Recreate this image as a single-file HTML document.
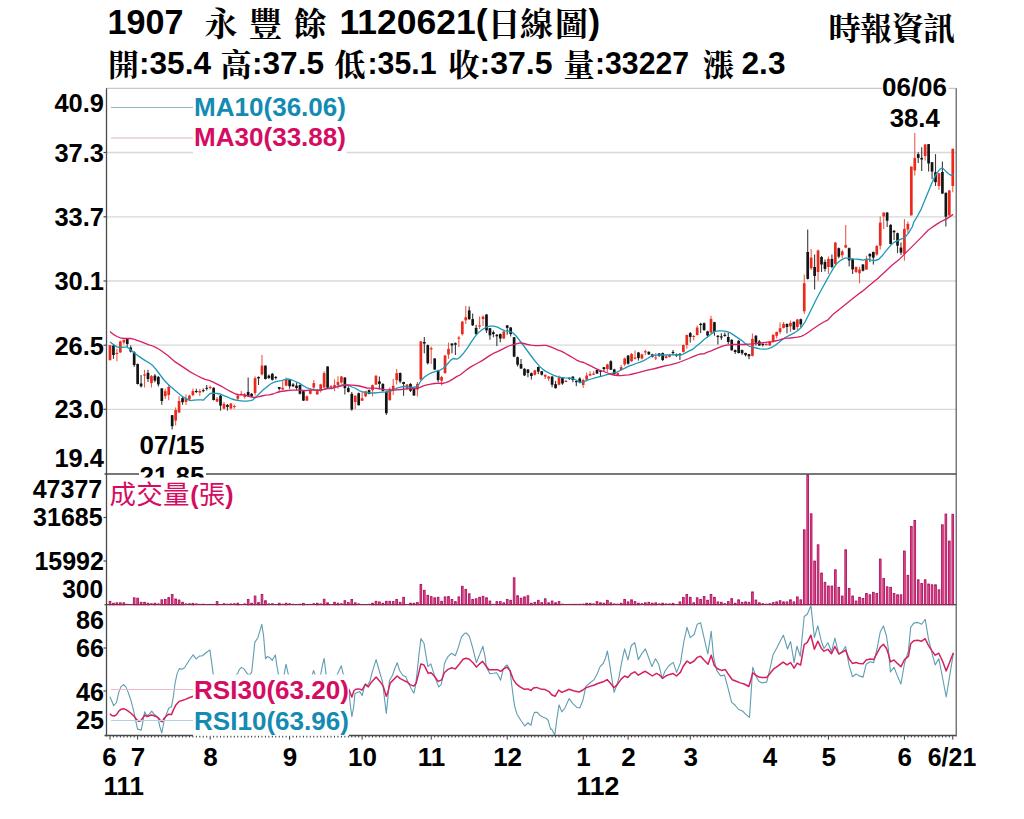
<!DOCTYPE html>
<html><head><meta charset="utf-8"><title>1907</title>
<style>
html,body{margin:0;padding:0;background:#fff;}
body{width:1024px;height:819px;overflow:hidden;font-family:"Liberation Sans",sans-serif;}
svg{display:block;font-family:"Liberation Sans",sans-serif;}
</style></head><body>
<svg width="1024" height="819" viewBox="0 0 1024 819">

<rect x="0" y="0" width="1024" height="819" fill="#fff"/>
<text x="107.5" y="34.3" font-size="35.0" font-weight="bold" fill="#000" text-anchor="start" textLength="76.0" lengthAdjust="spacingAndGlyphs">1907</text>
<text x="204.5 249.1 293.7" y="35.54" font-size="33" font-weight="bold" fill="#000" text-anchor="start" style="font-family:'Liberation Serif','Noto Serif CJK SC',serif">永豐餘</text>
<text x="339.5" y="34.3" font-size="35.0" font-weight="bold" fill="#000" text-anchor="start" textLength="148.0" lengthAdjust="spacingAndGlyphs">1120621(</text>
<text x="487.5 520 555" y="35.54" font-size="33" font-weight="bold" fill="#000" text-anchor="start" style="font-family:'Liberation Serif','Noto Serif CJK SC',serif">日線圖</text>
<text x="588.5" y="34.3" font-size="35.0" font-weight="bold" fill="#000" text-anchor="start">)</text>
<text x="828.5 860 891.5 923" y="40.24" font-size="32" font-weight="bold" fill="#000" text-anchor="start" style="font-family:'Liberation Serif','Noto Serif CJK SC',serif">時報資訊</text>
<text x="108.0" y="75.78" font-size="31" font-weight="bold" fill="#000" text-anchor="start" style="font-family:'Liberation Serif','Noto Serif CJK SC',serif">開</text>
<text x="139.0" y="74.1" font-size="31.0" font-weight="bold" fill="#000" text-anchor="start" textLength="72.0" lengthAdjust="spacingAndGlyphs">:35.4</text>
<text x="220.5" y="75.78" font-size="31" font-weight="bold" fill="#000" text-anchor="start" style="font-family:'Liberation Serif','Noto Serif CJK SC',serif">高</text>
<text x="252.0" y="74.1" font-size="31.0" font-weight="bold" fill="#000" text-anchor="start" textLength="72.0" lengthAdjust="spacingAndGlyphs">:37.5</text>
<text x="334.5" y="75.78" font-size="31" font-weight="bold" fill="#000" text-anchor="start" style="font-family:'Liberation Serif','Noto Serif CJK SC',serif">低</text>
<text x="367.5" y="74.1" font-size="31.0" font-weight="bold" fill="#000" text-anchor="start" textLength="69.0" lengthAdjust="spacingAndGlyphs">:35.1</text>
<text x="448.5" y="75.78" font-size="31" font-weight="bold" fill="#000" text-anchor="start" style="font-family:'Liberation Serif','Noto Serif CJK SC',serif">收</text>
<text x="479.5" y="74.1" font-size="31.0" font-weight="bold" fill="#000" text-anchor="start" textLength="73.0" lengthAdjust="spacingAndGlyphs">:37.5</text>
<text x="563.5" y="75.78" font-size="31" font-weight="bold" fill="#000" text-anchor="start" style="font-family:'Liberation Serif','Noto Serif CJK SC',serif">量</text>
<text x="595.0" y="74.1" font-size="31.0" font-weight="bold" fill="#000" text-anchor="start" textLength="94.0" lengthAdjust="spacingAndGlyphs">:33227</text>
<text x="703.0" y="75.78" font-size="31" font-weight="bold" fill="#000" text-anchor="start" style="font-family:'Liberation Serif','Noto Serif CJK SC',serif">漲</text>
<text x="741.5" y="74.1" font-size="31.0" font-weight="bold" fill="#000" text-anchor="start" textLength="44.0" lengthAdjust="spacingAndGlyphs">2.3</text>
<line x1="106.5" x2="956.0" y1="152.5" y2="152.5" stroke="#d8d8d8" stroke-width="1.3"/>
<line x1="106.5" x2="956.0" y1="216.8" y2="216.8" stroke="#d8d8d8" stroke-width="1.3"/>
<line x1="106.5" x2="956.0" y1="281.0" y2="281.0" stroke="#d8d8d8" stroke-width="1.3"/>
<line x1="106.5" x2="956.0" y1="345.2" y2="345.2" stroke="#d8d8d8" stroke-width="1.3"/>
<line x1="106.5" x2="956.0" y1="409.3" y2="409.3" stroke="#d8d8d8" stroke-width="1.3"/>
<line x1="106.5" x2="956.0" y1="88.3" y2="88.3" stroke="#c8c8c8" stroke-width="1.3"/>
<g id="price">
<path d="M110.00 345.2V360.2" stroke="#ee5b4b" stroke-width="1.1"/>
<rect x="108.65" y="345.2" width="2.7" height="15.0" fill="#ea2a1c"/>
<path d="M113.45 345.0V358.8" stroke="#3a3a3a" stroke-width="1.1"/>
<rect x="112.10" y="345.6" width="2.7" height="9.4" fill="#141414"/>
<path d="M116.91 348.8V361.2" stroke="#ee5b4b" stroke-width="1.1"/>
<rect x="115.56" y="352.9" width="2.7" height="1.1" fill="#ea2a1c"/>
<path d="M120.36 340.6V352.8" stroke="#ee5b4b" stroke-width="1.1"/>
<rect x="119.01" y="341.5" width="2.7" height="11.0" fill="#ea2a1c"/>
<path d="M123.82 339.4V344.4" stroke="#ee5b4b" stroke-width="1.1"/>
<rect x="122.47" y="340.0" width="2.7" height="2.5" fill="#ea2a1c"/>
<path d="M127.27 338.1V346.9" stroke="#3a3a3a" stroke-width="1.1"/>
<rect x="125.92" y="338.8" width="2.7" height="5.2" fill="#141414"/>
<path d="M130.72 345.6V352.5" stroke="#3a3a3a" stroke-width="1.1"/>
<rect x="129.37" y="347.5" width="2.7" height="4.0" fill="#141414"/>
<path d="M134.18 351.2V366.9" stroke="#3a3a3a" stroke-width="1.1"/>
<rect x="132.83" y="352.2" width="2.7" height="12.8" fill="#141414"/>
<path d="M137.63 363.5V384.6" stroke="#3a3a3a" stroke-width="1.1"/>
<rect x="136.28" y="364.0" width="2.7" height="20.0" fill="#141414"/>
<path d="M141.09 375.0V387.5" stroke="#3a3a3a" stroke-width="1.1"/>
<rect x="139.74" y="383.5" width="2.7" height="2.8" fill="#141414"/>
<path d="M144.54 369.8V387.5" stroke="#ee5b4b" stroke-width="1.1"/>
<rect x="143.19" y="374.4" width="2.7" height="1.2" fill="#ea2a1c"/>
<path d="M147.99 369.8V381.9" stroke="#3a3a3a" stroke-width="1.1"/>
<rect x="146.64" y="372.8" width="2.7" height="6.2" fill="#141414"/>
<path d="M151.45 375.0V387.5" stroke="#ee5b4b" stroke-width="1.1"/>
<rect x="150.10" y="376.2" width="2.7" height="6.9" fill="#ea2a1c"/>
<path d="M154.90 374.0V382.2" stroke="#3a3a3a" stroke-width="1.1"/>
<rect x="153.55" y="375.6" width="2.7" height="5.0" fill="#141414"/>
<path d="M158.36 376.0V386.5" stroke="#3a3a3a" stroke-width="1.1"/>
<rect x="157.01" y="376.9" width="2.7" height="7.5" fill="#141414"/>
<path d="M161.81 388.1V404.8" stroke="#3a3a3a" stroke-width="1.1"/>
<rect x="160.46" y="388.4" width="2.7" height="12.6" fill="#141414"/>
<path d="M165.26 388.8V399.0" stroke="#ee5b4b" stroke-width="1.1"/>
<rect x="163.91" y="391.2" width="2.7" height="5.0" fill="#ea2a1c"/>
<path d="M168.72 385.0V400.2" stroke="#ee5b4b" stroke-width="1.1"/>
<rect x="167.37" y="386.9" width="2.7" height="8.1" fill="#ea2a1c"/>
<path d="M172.17 415.0V429.4" stroke="#3a3a3a" stroke-width="1.1"/>
<rect x="170.82" y="415.2" width="2.7" height="11.0" fill="#141414"/>
<path d="M175.63 407.5V425.6" stroke="#ee5b4b" stroke-width="1.1"/>
<rect x="174.28" y="410.0" width="2.7" height="10.6" fill="#ea2a1c"/>
<path d="M179.08 396.2V413.1" stroke="#ee5b4b" stroke-width="1.1"/>
<rect x="177.73" y="401.0" width="2.7" height="11.5" fill="#ea2a1c"/>
<path d="M182.53 396.2V404.8" stroke="#3a3a3a" stroke-width="1.1"/>
<rect x="181.18" y="398.1" width="2.7" height="4.1" fill="#141414"/>
<path d="M185.99 394.4V405.0" stroke="#ee5b4b" stroke-width="1.1"/>
<rect x="184.64" y="398.5" width="2.7" height="3.4" fill="#ea2a1c"/>
<path d="M189.44 394.8V400.6" stroke="#ee5b4b" stroke-width="1.1"/>
<rect x="188.09" y="395.6" width="2.7" height="3.8" fill="#ea2a1c"/>
<path d="M192.90 388.5V396.2" stroke="#ee5b4b" stroke-width="1.1"/>
<rect x="191.55" y="391.0" width="2.7" height="4.2" fill="#ea2a1c"/>
<path d="M196.35 388.8V393.1" stroke="#3a3a3a" stroke-width="1.1"/>
<rect x="195.00" y="391.0" width="2.7" height="1.0" fill="#141414"/>
<path d="M199.80 389.0V396.0" stroke="#ee5b4b" stroke-width="1.1"/>
<rect x="198.45" y="391.0" width="2.7" height="1.5" fill="#ea2a1c"/>
<path d="M203.26 388.5V392.2" stroke="#3a3a3a" stroke-width="1.1"/>
<rect x="201.91" y="390.2" width="2.7" height="1.0" fill="#141414"/>
<path d="M206.71 385.0V390.6" stroke="#3a3a3a" stroke-width="1.1"/>
<rect x="205.36" y="387.8" width="2.7" height="1.0" fill="#141414"/>
<path d="M210.17 385.6V389.4" stroke="#ee5b4b" stroke-width="1.1"/>
<rect x="208.82" y="386.9" width="2.7" height="1.2" fill="#ea2a1c"/>
<path d="M213.62 387.2V400.6" stroke="#3a3a3a" stroke-width="1.1"/>
<rect x="212.27" y="387.8" width="2.7" height="12.2" fill="#141414"/>
<path d="M217.07 396.9V401.9" stroke="#ee5b4b" stroke-width="1.1"/>
<rect x="215.72" y="398.8" width="2.7" height="2.8" fill="#ea2a1c"/>
<path d="M220.53 395.0V410.6" stroke="#3a3a3a" stroke-width="1.1"/>
<rect x="219.18" y="395.6" width="2.7" height="10.0" fill="#141414"/>
<path d="M223.98 401.9V409.4" stroke="#ee5b4b" stroke-width="1.1"/>
<rect x="222.63" y="403.8" width="2.7" height="4.8" fill="#ea2a1c"/>
<path d="M227.44 404.0V410.6" stroke="#3a3a3a" stroke-width="1.1"/>
<rect x="226.09" y="405.0" width="2.7" height="1.9" fill="#141414"/>
<path d="M230.89 403.1V409.4" stroke="#ee5b4b" stroke-width="1.1"/>
<rect x="229.54" y="403.5" width="2.7" height="5.0" fill="#ea2a1c"/>
<path d="M234.34 404.4V408.8" stroke="#ee5b4b" stroke-width="1.1"/>
<rect x="232.99" y="406.0" width="2.7" height="1.0" fill="#ea2a1c"/>
<path d="M237.80 393.8V400.0" stroke="#ee5b4b" stroke-width="1.1"/>
<rect x="236.45" y="395.6" width="2.7" height="3.1" fill="#ea2a1c"/>
<path d="M241.25 391.0V395.6" stroke="#ee5b4b" stroke-width="1.1"/>
<rect x="239.90" y="393.8" width="2.7" height="1.2" fill="#ea2a1c"/>
<path d="M244.71 393.1V398.8" stroke="#ee5b4b" stroke-width="1.1"/>
<rect x="243.36" y="394.4" width="2.7" height="2.5" fill="#ea2a1c"/>
<path d="M248.16 377.5V396.5" stroke="#3a3a3a" stroke-width="1.1"/>
<rect x="246.81" y="391.9" width="2.7" height="4.4" fill="#141414"/>
<path d="M251.61 393.1V396.9" stroke="#3a3a3a" stroke-width="1.1"/>
<rect x="250.26" y="393.8" width="2.7" height="2.5" fill="#141414"/>
<path d="M255.07 376.2V395.6" stroke="#ee5b4b" stroke-width="1.1"/>
<rect x="253.72" y="378.1" width="2.7" height="15.0" fill="#ea2a1c"/>
<path d="M258.52 376.5V385.0" stroke="#3a3a3a" stroke-width="1.1"/>
<rect x="257.17" y="376.9" width="2.7" height="1.5" fill="#141414"/>
<path d="M261.98 355.0V375.6" stroke="#ee5b4b" stroke-width="1.1"/>
<rect x="260.63" y="365.6" width="2.7" height="8.8" fill="#ea2a1c"/>
<path d="M265.43 365.4V379.4" stroke="#3a3a3a" stroke-width="1.1"/>
<rect x="264.08" y="365.6" width="2.7" height="13.4" fill="#141414"/>
<path d="M268.88 374.4V378.8" stroke="#3a3a3a" stroke-width="1.1"/>
<rect x="267.53" y="375.6" width="2.7" height="2.5" fill="#141414"/>
<path d="M272.34 373.1V380.6" stroke="#3a3a3a" stroke-width="1.1"/>
<rect x="270.99" y="373.8" width="2.7" height="6.0" fill="#141414"/>
<path d="M275.79 376.0V379.4" stroke="#3a3a3a" stroke-width="1.1"/>
<rect x="274.44" y="377.0" width="2.7" height="1.0" fill="#141414"/>
<path d="M279.25 386.9V390.6" stroke="#3a3a3a" stroke-width="1.1"/>
<rect x="277.90" y="387.0" width="2.7" height="1.8" fill="#141414"/>
<path d="M282.70 381.2V390.0" stroke="#ee5b4b" stroke-width="1.1"/>
<rect x="281.35" y="387.8" width="2.7" height="1.6" fill="#ea2a1c"/>
<path d="M286.15 377.5V386.2" stroke="#ee5b4b" stroke-width="1.1"/>
<rect x="284.80" y="380.0" width="2.7" height="5.6" fill="#ea2a1c"/>
<path d="M289.61 379.4V388.8" stroke="#3a3a3a" stroke-width="1.1"/>
<rect x="288.26" y="380.0" width="2.7" height="6.2" fill="#141414"/>
<path d="M293.06 383.1V386.9" stroke="#3a3a3a" stroke-width="1.1"/>
<rect x="291.71" y="384.4" width="2.7" height="1.9" fill="#141414"/>
<path d="M296.52 382.5V390.0" stroke="#3a3a3a" stroke-width="1.1"/>
<rect x="295.17" y="385.6" width="2.7" height="2.5" fill="#141414"/>
<path d="M299.97 384.4V394.4" stroke="#3a3a3a" stroke-width="1.1"/>
<rect x="298.62" y="385.0" width="2.7" height="8.8" fill="#141414"/>
<path d="M303.42 390.6V401.0" stroke="#3a3a3a" stroke-width="1.1"/>
<rect x="302.07" y="391.2" width="2.7" height="9.4" fill="#141414"/>
<path d="M306.88 395.6V401.0" stroke="#ee5b4b" stroke-width="1.1"/>
<rect x="305.53" y="396.2" width="2.7" height="4.4" fill="#ea2a1c"/>
<path d="M310.33 388.8V394.4" stroke="#ee5b4b" stroke-width="1.1"/>
<rect x="308.98" y="390.0" width="2.7" height="3.8" fill="#ea2a1c"/>
<path d="M313.79 380.0V389.4" stroke="#ee5b4b" stroke-width="1.1"/>
<rect x="312.44" y="383.1" width="2.7" height="4.4" fill="#ea2a1c"/>
<path d="M317.24 388.8V395.0" stroke="#ee5b4b" stroke-width="1.1"/>
<rect x="315.89" y="391.2" width="2.7" height="3.1" fill="#ea2a1c"/>
<path d="M320.69 383.8V392.5" stroke="#ee5b4b" stroke-width="1.1"/>
<rect x="319.34" y="384.4" width="2.7" height="5.6" fill="#ea2a1c"/>
<path d="M324.15 371.2V388.1" stroke="#ee5b4b" stroke-width="1.1"/>
<rect x="322.80" y="373.1" width="2.7" height="14.4" fill="#ea2a1c"/>
<path d="M327.60 366.2V388.1" stroke="#3a3a3a" stroke-width="1.1"/>
<rect x="326.25" y="366.5" width="2.7" height="21.2" fill="#141414"/>
<path d="M331.06 385.0V388.8" stroke="#ee5b4b" stroke-width="1.1"/>
<rect x="329.71" y="386.2" width="2.7" height="1.5" fill="#ea2a1c"/>
<path d="M334.51 379.4V391.2" stroke="#ee5b4b" stroke-width="1.1"/>
<rect x="333.16" y="385.0" width="2.7" height="2.5" fill="#ea2a1c"/>
<path d="M337.96 376.2V388.8" stroke="#ee5b4b" stroke-width="1.1"/>
<rect x="336.61" y="381.9" width="2.7" height="3.1" fill="#ea2a1c"/>
<path d="M341.42 376.0V383.8" stroke="#ee5b4b" stroke-width="1.1"/>
<rect x="340.07" y="376.5" width="2.7" height="6.0" fill="#ea2a1c"/>
<path d="M344.87 377.2V394.4" stroke="#3a3a3a" stroke-width="1.1"/>
<rect x="343.52" y="377.5" width="2.7" height="10.6" fill="#141414"/>
<path d="M348.33 386.2V392.5" stroke="#3a3a3a" stroke-width="1.1"/>
<rect x="346.98" y="388.1" width="2.7" height="3.8" fill="#141414"/>
<path d="M351.78 392.0V410.8" stroke="#3a3a3a" stroke-width="1.1"/>
<rect x="350.43" y="393.9" width="2.7" height="15.6" fill="#141414"/>
<path d="M355.23 395.1V408.9" stroke="#ee5b4b" stroke-width="1.1"/>
<rect x="353.88" y="395.8" width="2.7" height="6.2" fill="#ea2a1c"/>
<path d="M358.69 392.6V405.8" stroke="#3a3a3a" stroke-width="1.1"/>
<rect x="357.34" y="393.2" width="2.7" height="11.9" fill="#141414"/>
<path d="M362.14 392.0V401.0" stroke="#ee5b4b" stroke-width="1.1"/>
<rect x="360.79" y="398.2" width="2.7" height="2.5" fill="#ea2a1c"/>
<path d="M365.60 390.8V397.0" stroke="#ee5b4b" stroke-width="1.1"/>
<rect x="364.25" y="391.4" width="2.7" height="5.0" fill="#ea2a1c"/>
<path d="M369.05 389.5V394.2" stroke="#3a3a3a" stroke-width="1.1"/>
<rect x="367.70" y="390.1" width="2.7" height="3.8" fill="#141414"/>
<path d="M372.50 384.5V396.4" stroke="#ee5b4b" stroke-width="1.1"/>
<rect x="371.15" y="385.1" width="2.7" height="5.0" fill="#ea2a1c"/>
<path d="M375.96 375.1V385.1" stroke="#ee5b4b" stroke-width="1.1"/>
<rect x="374.61" y="375.8" width="2.7" height="8.8" fill="#ea2a1c"/>
<path d="M379.41 376.4V389.5" stroke="#3a3a3a" stroke-width="1.1"/>
<rect x="378.06" y="381.4" width="2.7" height="2.5" fill="#141414"/>
<path d="M382.87 383.2V391.4" stroke="#3a3a3a" stroke-width="1.1"/>
<rect x="381.52" y="383.9" width="2.7" height="6.9" fill="#141414"/>
<path d="M386.32 390.8V415.1" stroke="#3a3a3a" stroke-width="1.1"/>
<rect x="384.97" y="392.0" width="2.7" height="21.2" fill="#141414"/>
<path d="M389.77 387.6V400.8" stroke="#ee5b4b" stroke-width="1.1"/>
<rect x="388.42" y="388.9" width="2.7" height="11.2" fill="#ea2a1c"/>
<path d="M393.23 378.9V395.1" stroke="#ee5b4b" stroke-width="1.1"/>
<rect x="391.88" y="385.8" width="2.7" height="4.4" fill="#ea2a1c"/>
<path d="M396.68 368.9V384.5" stroke="#ee5b4b" stroke-width="1.1"/>
<rect x="395.33" y="373.2" width="2.7" height="6.9" fill="#ea2a1c"/>
<path d="M400.14 372.6V383.2" stroke="#3a3a3a" stroke-width="1.1"/>
<rect x="398.79" y="373.0" width="2.7" height="8.4" fill="#141414"/>
<path d="M403.59 381.8V395.8" stroke="#3a3a3a" stroke-width="1.1"/>
<rect x="402.24" y="382.0" width="2.7" height="2.0" fill="#141414"/>
<path d="M407.04 383.9V389.5" stroke="#ee5b4b" stroke-width="1.1"/>
<rect x="405.69" y="384.5" width="2.7" height="4.4" fill="#ea2a1c"/>
<path d="M410.50 383.2V392.0" stroke="#3a3a3a" stroke-width="1.1"/>
<rect x="409.15" y="383.9" width="2.7" height="6.9" fill="#141414"/>
<path d="M413.95 388.2V395.8" stroke="#3a3a3a" stroke-width="1.1"/>
<rect x="412.60" y="388.9" width="2.7" height="6.6" fill="#141414"/>
<path d="M417.41 382.0V396.4" stroke="#ee5b4b" stroke-width="1.1"/>
<rect x="416.06" y="383.9" width="2.7" height="5.6" fill="#ea2a1c"/>
<path d="M420.86 341.0V380.1" stroke="#ee5b4b" stroke-width="1.1"/>
<rect x="419.51" y="341.4" width="2.7" height="38.1" fill="#ea2a1c"/>
<path d="M424.31 337.0V353.2" stroke="#3a3a3a" stroke-width="1.1"/>
<rect x="422.96" y="342.0" width="2.7" height="1.5" fill="#141414"/>
<path d="M427.77 344.5V364.5" stroke="#3a3a3a" stroke-width="1.1"/>
<rect x="426.42" y="345.1" width="2.7" height="18.1" fill="#141414"/>
<path d="M431.22 346.4V363.9" stroke="#ee5b4b" stroke-width="1.1"/>
<rect x="429.87" y="348.2" width="2.7" height="1.2" fill="#ea2a1c"/>
<path d="M434.68 358.0V370.1" stroke="#3a3a3a" stroke-width="1.1"/>
<rect x="433.33" y="358.5" width="2.7" height="11.0" fill="#141414"/>
<path d="M438.13 369.8V382.0" stroke="#3a3a3a" stroke-width="1.1"/>
<rect x="436.78" y="370.5" width="2.7" height="9.6" fill="#141414"/>
<path d="M441.58 375.8V385.5" stroke="#ee5b4b" stroke-width="1.1"/>
<rect x="440.23" y="377.0" width="2.7" height="3.8" fill="#ea2a1c"/>
<path d="M445.04 355.1V373.9" stroke="#ee5b4b" stroke-width="1.1"/>
<rect x="443.69" y="355.5" width="2.7" height="17.5" fill="#ea2a1c"/>
<path d="M448.49 342.6V358.9" stroke="#ee5b4b" stroke-width="1.1"/>
<rect x="447.14" y="348.9" width="2.7" height="5.6" fill="#ea2a1c"/>
<path d="M451.95 343.2V353.2" stroke="#3a3a3a" stroke-width="1.1"/>
<rect x="450.60" y="343.5" width="2.7" height="1.9" fill="#141414"/>
<path d="M455.40 342.6V355.1" stroke="#3a3a3a" stroke-width="1.1"/>
<rect x="454.05" y="343.2" width="2.7" height="1.5" fill="#141414"/>
<path d="M458.85 335.8V347.0" stroke="#ee5b4b" stroke-width="1.1"/>
<rect x="457.50" y="337.6" width="2.7" height="1.2" fill="#ea2a1c"/>
<path d="M462.31 321.0V335.4" stroke="#ee5b4b" stroke-width="1.1"/>
<rect x="460.96" y="321.6" width="2.7" height="12.5" fill="#ea2a1c"/>
<path d="M465.76 306.0V324.1" stroke="#ee5b4b" stroke-width="1.1"/>
<rect x="464.41" y="317.2" width="2.7" height="3.1" fill="#ea2a1c"/>
<path d="M469.22 306.6V319.8" stroke="#3a3a3a" stroke-width="1.1"/>
<rect x="467.87" y="310.4" width="2.7" height="8.8" fill="#141414"/>
<path d="M472.67 313.5V326.0" stroke="#3a3a3a" stroke-width="1.1"/>
<rect x="471.32" y="319.1" width="2.7" height="6.2" fill="#141414"/>
<path d="M476.12 324.8V334.8" stroke="#3a3a3a" stroke-width="1.1"/>
<rect x="474.77" y="327.9" width="2.7" height="6.2" fill="#141414"/>
<path d="M479.58 316.6V329.1" stroke="#ee5b4b" stroke-width="1.1"/>
<rect x="478.23" y="325.4" width="2.7" height="1.2" fill="#ea2a1c"/>
<path d="M483.03 315.4V326.0" stroke="#ee5b4b" stroke-width="1.1"/>
<rect x="481.68" y="316.6" width="2.7" height="2.5" fill="#ea2a1c"/>
<path d="M486.49 314.1V332.9" stroke="#3a3a3a" stroke-width="1.1"/>
<rect x="485.14" y="314.5" width="2.7" height="15.9" fill="#141414"/>
<path d="M489.94 327.9V339.8" stroke="#3a3a3a" stroke-width="1.1"/>
<rect x="488.59" y="328.2" width="2.7" height="7.1" fill="#141414"/>
<path d="M493.39 330.4V337.2" stroke="#3a3a3a" stroke-width="1.1"/>
<rect x="492.04" y="332.2" width="2.7" height="1.9" fill="#141414"/>
<path d="M496.85 334.1V346.0" stroke="#3a3a3a" stroke-width="1.1"/>
<rect x="495.50" y="334.8" width="2.7" height="1.5" fill="#141414"/>
<path d="M500.30 333.5V342.2" stroke="#3a3a3a" stroke-width="1.1"/>
<rect x="498.95" y="334.1" width="2.7" height="4.4" fill="#141414"/>
<path d="M503.76 331.0V339.1" stroke="#ee5b4b" stroke-width="1.1"/>
<rect x="502.41" y="331.6" width="2.7" height="6.9" fill="#ea2a1c"/>
<path d="M507.21 325.0V334.8" stroke="#3a3a3a" stroke-width="1.1"/>
<rect x="505.86" y="325.4" width="2.7" height="2.5" fill="#141414"/>
<path d="M510.66 327.0V336.6" stroke="#3a3a3a" stroke-width="1.1"/>
<rect x="509.31" y="327.5" width="2.7" height="6.6" fill="#141414"/>
<path d="M514.12 337.0V357.2" stroke="#3a3a3a" stroke-width="1.1"/>
<rect x="512.77" y="337.2" width="2.7" height="19.4" fill="#141414"/>
<path d="M517.57 356.6V366.6" stroke="#3a3a3a" stroke-width="1.1"/>
<rect x="516.22" y="357.2" width="2.7" height="7.5" fill="#141414"/>
<path d="M521.03 359.1V369.1" stroke="#3a3a3a" stroke-width="1.1"/>
<rect x="519.68" y="364.1" width="2.7" height="4.4" fill="#141414"/>
<path d="M524.48 368.2V376.0" stroke="#3a3a3a" stroke-width="1.1"/>
<rect x="523.13" y="368.8" width="2.7" height="6.6" fill="#141414"/>
<path d="M527.93 369.1V377.2" stroke="#3a3a3a" stroke-width="1.1"/>
<rect x="526.58" y="369.5" width="2.7" height="3.4" fill="#141414"/>
<path d="M531.39 372.5V379.5" stroke="#3a3a3a" stroke-width="1.1"/>
<rect x="530.04" y="373.2" width="2.7" height="2.8" fill="#141414"/>
<path d="M534.84 369.8V375.4" stroke="#ee5b4b" stroke-width="1.1"/>
<rect x="533.49" y="370.4" width="2.7" height="4.4" fill="#ea2a1c"/>
<path d="M538.30 366.6V374.1" stroke="#3a3a3a" stroke-width="1.1"/>
<rect x="536.95" y="367.0" width="2.7" height="4.6" fill="#141414"/>
<path d="M541.75 371.0V375.4" stroke="#3a3a3a" stroke-width="1.1"/>
<rect x="540.40" y="371.2" width="2.7" height="3.5" fill="#141414"/>
<path d="M545.20 374.5V379.1" stroke="#ee5b4b" stroke-width="1.1"/>
<rect x="543.85" y="374.8" width="2.7" height="1.9" fill="#ea2a1c"/>
<path d="M548.66 376.0V381.0" stroke="#ee5b4b" stroke-width="1.1"/>
<rect x="547.31" y="376.6" width="2.7" height="1.9" fill="#ea2a1c"/>
<path d="M552.11 376.0V387.2" stroke="#3a3a3a" stroke-width="1.1"/>
<rect x="550.76" y="376.6" width="2.7" height="8.1" fill="#141414"/>
<path d="M555.57 381.0V388.5" stroke="#3a3a3a" stroke-width="1.1"/>
<rect x="554.22" y="384.1" width="2.7" height="4.1" fill="#141414"/>
<path d="M559.02 375.4V385.4" stroke="#ee5b4b" stroke-width="1.1"/>
<rect x="557.67" y="377.5" width="2.7" height="7.2" fill="#ea2a1c"/>
<path d="M562.47 377.5V384.8" stroke="#3a3a3a" stroke-width="1.1"/>
<rect x="561.12" y="377.9" width="2.7" height="5.6" fill="#141414"/>
<path d="M565.93 380.0V382.2" stroke="#ee5b4b" stroke-width="1.1"/>
<rect x="564.58" y="380.8" width="2.7" height="1.2" fill="#ea2a1c"/>
<path d="M569.38 377.2V379.8" stroke="#3a3a3a" stroke-width="1.1"/>
<rect x="568.03" y="377.9" width="2.7" height="1.2" fill="#141414"/>
<path d="M572.84 376.2V382.2" stroke="#3a3a3a" stroke-width="1.1"/>
<rect x="571.49" y="376.6" width="2.7" height="3.4" fill="#141414"/>
<path d="M576.29 380.4V386.2" stroke="#3a3a3a" stroke-width="1.1"/>
<rect x="574.94" y="381.0" width="2.7" height="1.2" fill="#141414"/>
<path d="M579.74 377.2V383.2" stroke="#3a3a3a" stroke-width="1.1"/>
<rect x="578.39" y="378.5" width="2.7" height="4.0" fill="#141414"/>
<path d="M583.20 378.8V388.1" stroke="#ee5b4b" stroke-width="1.1"/>
<rect x="581.85" y="380.0" width="2.7" height="5.0" fill="#ea2a1c"/>
<path d="M586.65 372.5V380.0" stroke="#ee5b4b" stroke-width="1.1"/>
<rect x="585.30" y="375.6" width="2.7" height="4.1" fill="#ea2a1c"/>
<path d="M590.11 371.2V376.2" stroke="#ee5b4b" stroke-width="1.1"/>
<rect x="588.76" y="374.0" width="2.7" height="1.6" fill="#ea2a1c"/>
<path d="M593.56 371.2V375.0" stroke="#ee5b4b" stroke-width="1.1"/>
<rect x="592.21" y="373.5" width="2.7" height="1.2" fill="#ea2a1c"/>
<path d="M597.01 369.4V374.0" stroke="#3a3a3a" stroke-width="1.1"/>
<rect x="595.66" y="370.0" width="2.7" height="3.5" fill="#141414"/>
<path d="M600.47 370.0V376.2" stroke="#3a3a3a" stroke-width="1.1"/>
<rect x="599.12" y="370.6" width="2.7" height="1.2" fill="#141414"/>
<path d="M603.92 366.9V371.2" stroke="#3a3a3a" stroke-width="1.1"/>
<rect x="602.57" y="367.2" width="2.7" height="1.8" fill="#141414"/>
<path d="M607.38 363.8V371.9" stroke="#ee5b4b" stroke-width="1.1"/>
<rect x="606.03" y="364.4" width="2.7" height="4.6" fill="#ea2a1c"/>
<path d="M610.83 360.2V370.0" stroke="#3a3a3a" stroke-width="1.1"/>
<rect x="609.48" y="361.2" width="2.7" height="8.5" fill="#141414"/>
<path d="M614.28 368.8V375.6" stroke="#3a3a3a" stroke-width="1.1"/>
<rect x="612.93" y="369.4" width="2.7" height="4.6" fill="#141414"/>
<path d="M617.74 372.5V375.6" stroke="#ee5b4b" stroke-width="1.1"/>
<rect x="616.39" y="373.1" width="2.7" height="1.9" fill="#ea2a1c"/>
<path d="M621.19 365.0V370.6" stroke="#ee5b4b" stroke-width="1.1"/>
<rect x="619.84" y="367.2" width="2.7" height="2.8" fill="#ea2a1c"/>
<path d="M624.65 357.5V366.2" stroke="#ee5b4b" stroke-width="1.1"/>
<rect x="623.30" y="358.5" width="2.7" height="5.9" fill="#ea2a1c"/>
<path d="M628.10 355.0V364.4" stroke="#3a3a3a" stroke-width="1.1"/>
<rect x="626.75" y="355.6" width="2.7" height="8.1" fill="#141414"/>
<path d="M631.55 353.1V361.9" stroke="#ee5b4b" stroke-width="1.1"/>
<rect x="630.20" y="354.0" width="2.7" height="7.2" fill="#ea2a1c"/>
<path d="M635.01 350.6V359.4" stroke="#ee5b4b" stroke-width="1.1"/>
<rect x="633.66" y="357.5" width="2.7" height="1.2" fill="#ea2a1c"/>
<path d="M638.46 351.9V360.6" stroke="#3a3a3a" stroke-width="1.1"/>
<rect x="637.11" y="352.5" width="2.7" height="5.6" fill="#141414"/>
<path d="M641.92 353.8V359.4" stroke="#ee5b4b" stroke-width="1.1"/>
<rect x="640.57" y="354.4" width="2.7" height="4.1" fill="#ea2a1c"/>
<path d="M645.37 349.8V355.0" stroke="#ee5b4b" stroke-width="1.1"/>
<rect x="644.02" y="351.2" width="2.7" height="1.2" fill="#ea2a1c"/>
<path d="M648.82 351.2V355.0" stroke="#3a3a3a" stroke-width="1.1"/>
<rect x="647.47" y="351.9" width="2.7" height="2.5" fill="#141414"/>
<path d="M652.28 353.8V357.5" stroke="#3a3a3a" stroke-width="1.1"/>
<rect x="650.93" y="354.4" width="2.7" height="2.5" fill="#141414"/>
<path d="M655.73 353.1V360.0" stroke="#ee5b4b" stroke-width="1.1"/>
<rect x="654.38" y="357.5" width="2.7" height="1.0" fill="#ea2a1c"/>
<path d="M659.19 353.1V356.9" stroke="#3a3a3a" stroke-width="1.1"/>
<rect x="657.84" y="353.5" width="2.7" height="2.1" fill="#141414"/>
<path d="M662.64 352.5V361.0" stroke="#3a3a3a" stroke-width="1.1"/>
<rect x="661.29" y="353.1" width="2.7" height="6.9" fill="#141414"/>
<path d="M666.09 355.6V358.5" stroke="#ee5b4b" stroke-width="1.1"/>
<rect x="664.74" y="356.2" width="2.7" height="1.9" fill="#ea2a1c"/>
<path d="M669.55 353.8V357.5" stroke="#ee5b4b" stroke-width="1.1"/>
<rect x="668.20" y="355.0" width="2.7" height="1.9" fill="#ea2a1c"/>
<path d="M673.00 350.0V355.0" stroke="#3a3a3a" stroke-width="1.1"/>
<rect x="671.65" y="351.9" width="2.7" height="1.2" fill="#141414"/>
<path d="M676.46 353.5V356.9" stroke="#3a3a3a" stroke-width="1.1"/>
<rect x="675.11" y="354.4" width="2.7" height="1.2" fill="#141414"/>
<path d="M679.91 353.1V360.0" stroke="#3a3a3a" stroke-width="1.1"/>
<rect x="678.56" y="353.8" width="2.7" height="1.2" fill="#141414"/>
<path d="M683.36 344.4V352.5" stroke="#ee5b4b" stroke-width="1.1"/>
<rect x="682.01" y="345.0" width="2.7" height="6.9" fill="#ea2a1c"/>
<path d="M686.82 334.4V348.8" stroke="#ee5b4b" stroke-width="1.1"/>
<rect x="685.47" y="335.0" width="2.7" height="10.0" fill="#ea2a1c"/>
<path d="M690.27 331.9V342.5" stroke="#3a3a3a" stroke-width="1.1"/>
<rect x="688.92" y="333.1" width="2.7" height="3.8" fill="#141414"/>
<path d="M693.73 335.0V340.6" stroke="#ee5b4b" stroke-width="1.1"/>
<rect x="692.38" y="336.0" width="2.7" height="1.0" fill="#ea2a1c"/>
<path d="M697.18 325.6V335.6" stroke="#ee5b4b" stroke-width="1.1"/>
<rect x="695.83" y="327.5" width="2.7" height="7.5" fill="#ea2a1c"/>
<path d="M700.63 322.8V333.1" stroke="#3a3a3a" stroke-width="1.1"/>
<rect x="699.28" y="323.8" width="2.7" height="1.2" fill="#141414"/>
<path d="M704.09 322.6V330.8" stroke="#3a3a3a" stroke-width="1.1"/>
<rect x="702.74" y="323.2" width="2.7" height="6.9" fill="#141414"/>
<path d="M707.54 330.8V337.6" stroke="#3a3a3a" stroke-width="1.1"/>
<rect x="706.19" y="331.4" width="2.7" height="4.1" fill="#141414"/>
<path d="M711.00 315.8V333.2" stroke="#ee5b4b" stroke-width="1.1"/>
<rect x="709.65" y="318.9" width="2.7" height="13.8" fill="#ea2a1c"/>
<path d="M714.45 321.8V335.8" stroke="#3a3a3a" stroke-width="1.1"/>
<rect x="713.10" y="322.2" width="2.7" height="9.8" fill="#141414"/>
<path d="M717.90 335.1V344.5" stroke="#3a3a3a" stroke-width="1.1"/>
<rect x="716.55" y="335.8" width="2.7" height="1.2" fill="#141414"/>
<path d="M721.36 333.2V340.1" stroke="#3a3a3a" stroke-width="1.1"/>
<rect x="720.01" y="336.4" width="2.7" height="1.2" fill="#141414"/>
<path d="M724.81 332.6V336.8" stroke="#3a3a3a" stroke-width="1.1"/>
<rect x="723.46" y="334.8" width="2.7" height="1.2" fill="#141414"/>
<path d="M728.27 332.6V343.9" stroke="#3a3a3a" stroke-width="1.1"/>
<rect x="726.92" y="337.0" width="2.7" height="5.0" fill="#141414"/>
<path d="M731.72 339.2V350.8" stroke="#3a3a3a" stroke-width="1.1"/>
<rect x="730.37" y="339.8" width="2.7" height="10.4" fill="#141414"/>
<path d="M735.17 349.5V353.9" stroke="#3a3a3a" stroke-width="1.1"/>
<rect x="733.82" y="350.1" width="2.7" height="1.9" fill="#141414"/>
<path d="M738.63 340.1V353.5" stroke="#3a3a3a" stroke-width="1.1"/>
<rect x="737.28" y="340.8" width="2.7" height="12.2" fill="#141414"/>
<path d="M742.08 349.5V355.1" stroke="#3a3a3a" stroke-width="1.1"/>
<rect x="740.73" y="350.1" width="2.7" height="3.1" fill="#141414"/>
<path d="M745.54 352.6V356.4" stroke="#3a3a3a" stroke-width="1.1"/>
<rect x="744.19" y="353.0" width="2.7" height="2.1" fill="#141414"/>
<path d="M748.99 353.9V359.2" stroke="#3a3a3a" stroke-width="1.1"/>
<rect x="747.64" y="354.2" width="2.7" height="2.1" fill="#141414"/>
<path d="M752.44 333.5V356.4" stroke="#ee5b4b" stroke-width="1.1"/>
<rect x="751.09" y="338.9" width="2.7" height="16.9" fill="#ea2a1c"/>
<path d="M755.90 335.1V345.5" stroke="#3a3a3a" stroke-width="1.1"/>
<rect x="754.55" y="335.8" width="2.7" height="6.9" fill="#141414"/>
<path d="M759.35 340.1V346.0" stroke="#3a3a3a" stroke-width="1.1"/>
<rect x="758.00" y="341.4" width="2.7" height="4.1" fill="#141414"/>
<path d="M762.81 343.2V346.4" stroke="#3a3a3a" stroke-width="1.1"/>
<rect x="761.46" y="343.9" width="2.7" height="1.2" fill="#141414"/>
<path d="M766.26 343.2V345.5" stroke="#ee5b4b" stroke-width="1.1"/>
<rect x="764.91" y="343.9" width="2.7" height="1.2" fill="#ea2a1c"/>
<path d="M769.71 340.8V346.0" stroke="#ee5b4b" stroke-width="1.1"/>
<rect x="768.36" y="341.4" width="2.7" height="4.1" fill="#ea2a1c"/>
<path d="M773.17 334.2V342.6" stroke="#ee5b4b" stroke-width="1.1"/>
<rect x="771.82" y="334.8" width="2.7" height="7.2" fill="#ea2a1c"/>
<path d="M776.62 331.4V338.2" stroke="#ee5b4b" stroke-width="1.1"/>
<rect x="775.27" y="332.0" width="2.7" height="3.8" fill="#ea2a1c"/>
<path d="M780.08 322.6V333.9" stroke="#ee5b4b" stroke-width="1.1"/>
<rect x="778.73" y="328.2" width="2.7" height="3.8" fill="#ea2a1c"/>
<path d="M783.53 322.0V328.5" stroke="#ee5b4b" stroke-width="1.1"/>
<rect x="782.18" y="323.9" width="2.7" height="4.1" fill="#ea2a1c"/>
<path d="M786.98 323.6V333.2" stroke="#3a3a3a" stroke-width="1.1"/>
<rect x="785.63" y="323.9" width="2.7" height="3.1" fill="#141414"/>
<path d="M790.44 320.5V332.0" stroke="#ee5b4b" stroke-width="1.1"/>
<rect x="789.09" y="323.0" width="2.7" height="3.4" fill="#ea2a1c"/>
<path d="M793.89 321.4V330.1" stroke="#3a3a3a" stroke-width="1.1"/>
<rect x="792.54" y="321.8" width="2.7" height="7.8" fill="#141414"/>
<path d="M797.35 318.9V330.1" stroke="#ee5b4b" stroke-width="1.1"/>
<rect x="796.00" y="319.5" width="2.7" height="7.5" fill="#ea2a1c"/>
<path d="M800.80 318.5V327.6" stroke="#3a3a3a" stroke-width="1.1"/>
<rect x="799.45" y="319.2" width="2.7" height="5.2" fill="#141414"/>
<path d="M804.25 274.5V313.9" stroke="#ee5b4b" stroke-width="1.1"/>
<rect x="802.90" y="283.2" width="2.7" height="28.1" fill="#ea2a1c"/>
<path d="M807.71 229.5V279.5" stroke="#3a3a3a" stroke-width="1.1"/>
<rect x="806.36" y="252.0" width="2.7" height="26.9" fill="#141414"/>
<path d="M811.16 248.9V270.1" stroke="#ee5b4b" stroke-width="1.1"/>
<rect x="809.81" y="257.6" width="2.7" height="10.6" fill="#ea2a1c"/>
<path d="M814.62 254.5V289.5" stroke="#3a3a3a" stroke-width="1.1"/>
<rect x="813.27" y="267.0" width="2.7" height="9.0" fill="#141414"/>
<path d="M818.07 249.5V280.8" stroke="#ee5b4b" stroke-width="1.1"/>
<rect x="816.72" y="250.5" width="2.7" height="21.5" fill="#ea2a1c"/>
<path d="M821.52 256.0V272.0" stroke="#3a3a3a" stroke-width="1.1"/>
<rect x="820.17" y="257.0" width="2.7" height="7.5" fill="#141414"/>
<path d="M824.98 259.5V271.4" stroke="#3a3a3a" stroke-width="1.1"/>
<rect x="823.63" y="262.0" width="2.7" height="6.9" fill="#141414"/>
<path d="M828.43 256.4V273.9" stroke="#ee5b4b" stroke-width="1.1"/>
<rect x="827.08" y="258.9" width="2.7" height="8.1" fill="#ea2a1c"/>
<path d="M831.89 254.5V268.2" stroke="#3a3a3a" stroke-width="1.1"/>
<rect x="830.54" y="258.9" width="2.7" height="8.1" fill="#141414"/>
<path d="M835.34 242.0V265.8" stroke="#ee5b4b" stroke-width="1.1"/>
<rect x="833.99" y="242.6" width="2.7" height="21.2" fill="#ea2a1c"/>
<path d="M838.79 247.6V258.2" stroke="#3a3a3a" stroke-width="1.1"/>
<rect x="837.44" y="248.2" width="2.7" height="8.5" fill="#141414"/>
<path d="M842.25 249.8V258.2" stroke="#ee5b4b" stroke-width="1.1"/>
<rect x="840.90" y="251.4" width="2.7" height="3.8" fill="#ea2a1c"/>
<path d="M845.70 225.1V248.2" stroke="#ee5b4b" stroke-width="1.1"/>
<rect x="844.35" y="245.1" width="2.7" height="2.5" fill="#ea2a1c"/>
<path d="M849.16 247.6V266.4" stroke="#3a3a3a" stroke-width="1.1"/>
<rect x="847.81" y="248.2" width="2.7" height="12.2" fill="#141414"/>
<path d="M852.61 258.2V273.9" stroke="#3a3a3a" stroke-width="1.1"/>
<rect x="851.26" y="259.2" width="2.7" height="10.2" fill="#141414"/>
<path d="M856.06 266.4V273.2" stroke="#ee5b4b" stroke-width="1.1"/>
<rect x="854.71" y="267.0" width="2.7" height="5.0" fill="#ea2a1c"/>
<path d="M859.52 266.8V283.2" stroke="#ee5b4b" stroke-width="1.1"/>
<rect x="858.17" y="269.5" width="2.7" height="3.8" fill="#ea2a1c"/>
<path d="M862.97 263.9V271.4" stroke="#3a3a3a" stroke-width="1.1"/>
<rect x="861.62" y="264.5" width="2.7" height="6.2" fill="#141414"/>
<path d="M866.43 255.8V270.1" stroke="#ee5b4b" stroke-width="1.1"/>
<rect x="865.08" y="259.5" width="2.7" height="10.0" fill="#ea2a1c"/>
<path d="M869.88 253.2V262.0" stroke="#3a3a3a" stroke-width="1.1"/>
<rect x="868.53" y="253.9" width="2.7" height="2.5" fill="#141414"/>
<path d="M873.33 251.4V264.5" stroke="#3a3a3a" stroke-width="1.1"/>
<rect x="871.98" y="252.0" width="2.7" height="5.6" fill="#141414"/>
<path d="M876.79 245.1V255.8" stroke="#ee5b4b" stroke-width="1.1"/>
<rect x="875.44" y="246.0" width="2.7" height="8.5" fill="#ea2a1c"/>
<path d="M880.24 216.4V249.5" stroke="#ee5b4b" stroke-width="1.1"/>
<rect x="878.89" y="222.6" width="2.7" height="23.1" fill="#ea2a1c"/>
<path d="M883.70 212.4V228.9" stroke="#ee5b4b" stroke-width="1.1"/>
<rect x="882.35" y="212.6" width="2.7" height="3.8" fill="#ea2a1c"/>
<path d="M887.15 212.0V227.0" stroke="#3a3a3a" stroke-width="1.1"/>
<rect x="885.80" y="212.6" width="2.7" height="8.1" fill="#141414"/>
<path d="M890.60 224.2V244.5" stroke="#3a3a3a" stroke-width="1.1"/>
<rect x="889.25" y="224.8" width="2.7" height="19.1" fill="#141414"/>
<path d="M894.06 230.1V240.1" stroke="#3a3a3a" stroke-width="1.1"/>
<rect x="892.71" y="230.8" width="2.7" height="1.5" fill="#141414"/>
<path d="M897.51 232.6V253.2" stroke="#3a3a3a" stroke-width="1.1"/>
<rect x="896.16" y="233.2" width="2.7" height="12.5" fill="#141414"/>
<path d="M900.97 242.6V255.1" stroke="#3a3a3a" stroke-width="1.1"/>
<rect x="899.62" y="247.6" width="2.7" height="5.0" fill="#141414"/>
<path d="M904.42 218.9V260.8" stroke="#ee5b4b" stroke-width="1.1"/>
<rect x="903.07" y="228.9" width="2.7" height="25.0" fill="#ea2a1c"/>
<path d="M907.87 221.4V233.2" stroke="#ee5b4b" stroke-width="1.1"/>
<rect x="906.52" y="223.9" width="2.7" height="5.6" fill="#ea2a1c"/>
<path d="M911.33 166.6V215.4" stroke="#ee5b4b" stroke-width="1.1"/>
<rect x="909.98" y="166.6" width="2.7" height="48.8" fill="#ea2a1c"/>
<path d="M914.78 132.9V175.4" stroke="#ee5b4b" stroke-width="1.1"/>
<rect x="913.43" y="157.9" width="2.7" height="12.5" fill="#ea2a1c"/>
<path d="M918.24 152.2V162.9" stroke="#3a3a3a" stroke-width="1.1"/>
<rect x="916.89" y="154.1" width="2.7" height="3.8" fill="#141414"/>
<path d="M921.69 147.2V171.0" stroke="#3a3a3a" stroke-width="1.1"/>
<rect x="920.34" y="157.9" width="2.7" height="1.6" fill="#141414"/>
<path d="M925.14 144.1V160.4" stroke="#ee5b4b" stroke-width="1.1"/>
<rect x="923.79" y="144.5" width="2.7" height="11.5" fill="#ea2a1c"/>
<path d="M928.60 143.9V171.6" stroke="#3a3a3a" stroke-width="1.1"/>
<rect x="927.25" y="144.1" width="2.7" height="19.4" fill="#141414"/>
<path d="M932.05 162.0V179.1" stroke="#3a3a3a" stroke-width="1.1"/>
<rect x="930.70" y="162.2" width="2.7" height="9.4" fill="#141414"/>
<path d="M935.51 154.1V186.0" stroke="#3a3a3a" stroke-width="1.1"/>
<rect x="934.16" y="172.2" width="2.7" height="10.0" fill="#141414"/>
<path d="M938.96 172.9V189.8" stroke="#ee5b4b" stroke-width="1.1"/>
<rect x="937.61" y="173.2" width="2.7" height="12.8" fill="#ea2a1c"/>
<path d="M942.41 161.6V194.1" stroke="#3a3a3a" stroke-width="1.1"/>
<rect x="941.06" y="172.0" width="2.7" height="21.5" fill="#141414"/>
<path d="M945.87 192.2V226.6" stroke="#3a3a3a" stroke-width="1.1"/>
<rect x="944.52" y="192.9" width="2.7" height="23.8" fill="#141414"/>
<path d="M949.32 190.0V216.0" stroke="#ee5b4b" stroke-width="1.1"/>
<rect x="947.97" y="190.4" width="2.7" height="25.0" fill="#ea2a1c"/>
<path d="M952.78 148.5V192.2" stroke="#ee5b4b" stroke-width="1.1"/>
<rect x="951.43" y="148.8" width="2.7" height="37.2" fill="#ea2a1c"/>
<path d="M110.0 341.9 L113.4 344.4 L116.9 346.9 L120.4 347.5 L123.9 347.2 L127.4 347.2 L130.9 350.0 L134.4 353.1 L137.8 355.6 L141.5 358.1 L145.2 360.6 L149.0 362.8 L152.8 365.6 L156.5 370.0 L160.2 375.0 L164.0 380.0 L167.8 384.0 L171.5 387.5 L175.2 390.6 L179.0 393.8 L182.8 396.9 L186.5 398.8 L190.2 400.6 L194.0 400.2 L197.8 399.8 L201.5 399.8 L203.4 400.2 L206.5 396.9 L210.2 393.5 L213.5 393.1 L217.0 393.5 L220.4 394.0 L223.8 395.6 L227.2 396.9 L231.8 399.0 L235.5 400.0 L239.2 400.6 L243.0 401.2 L246.8 401.2 L250.5 400.6 L253.0 399.8 L255.5 397.5 L259.2 393.8 L263.0 390.0 L266.8 386.9 L270.5 384.0 L274.2 382.2 L278.0 381.2 L281.8 380.6 L285.5 379.4 L288.0 379.0 L291.8 380.0 L295.5 381.5 L299.2 383.1 L303.0 385.6 L306.8 387.8 L310.5 388.8 L314.2 389.8 L318.0 390.0 L321.8 389.8 L325.5 388.8 L329.2 388.1 L331.8 388.8 L334.2 387.5 L338.0 386.2 L341.8 385.0 L345.5 384.8 L349.2 385.6 L352.0 387.0 L355.8 388.5 L359.5 390.8 L363.2 392.0 L367.0 392.6 L370.8 393.0 L374.5 393.0 L378.2 392.6 L382.0 392.2 L385.8 392.0 L389.5 391.4 L393.2 390.1 L397.0 388.2 L400.8 387.0 L404.5 386.4 L408.2 386.8 L412.0 387.4 L415.8 387.0 L418.2 385.8 L420.8 380.8 L424.5 377.0 L428.2 374.5 L432.0 372.6 L435.8 371.4 L439.5 370.5 L443.2 368.2 L447.0 364.5 L450.8 360.1 L453.2 358.5 L457.0 359.2 L460.0 357.2 L463.8 352.9 L467.5 347.9 L471.2 342.2 L475.0 336.6 L478.8 332.2 L482.5 329.5 L486.2 327.2 L490.0 326.2 L493.8 326.2 L497.5 327.2 L501.2 329.1 L505.0 330.8 L508.8 331.2 L512.5 332.5 L516.2 336.0 L520.0 341.0 L523.8 346.0 L527.5 351.0 L531.2 356.0 L535.0 361.0 L538.8 365.4 L542.5 369.1 L546.2 371.6 L550.0 373.5 L553.8 375.4 L557.5 376.6 L561.2 377.5 L565.0 377.9 L568.8 378.2 L572.5 378.5 L576.2 380.0 L580.0 382.5 L583.8 381.9 L587.5 380.2 L591.2 379.0 L595.0 377.8 L598.8 376.9 L602.5 376.0 L606.2 374.8 L610.0 373.8 L613.8 372.8 L617.5 371.9 L621.2 370.0 L625.0 368.1 L628.8 366.2 L632.5 364.8 L636.2 363.5 L640.0 362.2 L643.8 360.6 L647.5 358.5 L651.2 356.2 L655.0 355.2 L658.8 355.0 L662.5 355.0 L666.2 355.0 L670.0 354.8 L673.8 354.6 L677.5 355.0 L681.2 355.0 L685.0 353.1 L688.8 351.2 L692.5 349.4 L696.2 346.2 L700.0 343.2 L703.8 339.8 L707.5 337.0 L711.2 333.9 L715.0 331.4 L718.8 330.8 L722.5 330.8 L726.2 331.4 L730.0 332.6 L733.8 335.1 L737.5 337.6 L741.2 340.1 L745.0 343.2 L748.8 346.0 L752.5 347.2 L756.2 348.0 L760.0 348.9 L763.8 349.2 L767.5 348.9 L771.2 347.6 L775.0 345.5 L778.8 342.6 L782.5 339.5 L786.2 337.0 L790.0 335.1 L793.8 333.2 L797.5 330.8 L801.2 327.6 L805.0 322.0 L808.8 314.5 L812.5 307.0 L816.2 299.5 L819.1 294.0 L822.2 288.2 L826.0 281.4 L829.8 274.5 L833.5 268.2 L837.2 263.2 L841.0 260.1 L844.8 258.2 L848.5 258.2 L852.2 258.9 L856.0 259.2 L859.8 259.5 L863.5 260.1 L867.2 258.9 L871.0 260.1 L874.8 260.5 L878.5 259.5 L882.2 255.8 L886.0 250.8 L889.8 246.4 L893.5 242.6 L897.2 240.8 L901.0 239.2 L904.8 237.6 L908.5 233.2 L912.2 227.0 L913.8 222.2 L917.5 216.0 L921.2 209.1 L925.0 199.8 L928.8 190.4 L932.5 181.6 L936.2 174.1 L940.0 169.1 L942.5 167.9 L945.0 170.4 L948.1 173.5 L951.2 175.4 L953.1 175.0" fill="none" stroke="#1c98b8" stroke-width="1.3" stroke-linejoin="round"/>
<path d="M110.0 331.5 L113.4 334.4 L116.9 336.5 L120.4 337.8 L123.9 338.5 L127.4 338.5 L130.9 338.5 L134.4 339.4 L137.8 340.6 L141.5 341.9 L145.2 343.4 L149.0 344.8 L152.8 346.0 L156.5 347.8 L160.2 350.0 L164.0 352.8 L167.8 355.6 L171.5 358.8 L175.2 361.9 L179.0 364.4 L182.8 366.9 L186.5 369.4 L190.2 371.9 L194.0 374.0 L197.8 376.0 L201.5 377.8 L205.2 379.4 L209.0 380.4 L212.8 381.9 L216.5 383.8 L220.2 385.6 L224.0 387.8 L227.8 390.0 L231.8 392.1 L235.5 394.0 L239.2 394.8 L243.0 394.8 L246.8 395.6 L250.5 396.9 L254.2 397.5 L258.0 396.9 L261.8 396.0 L265.5 395.2 L269.2 394.8 L273.0 394.0 L276.8 392.5 L280.5 391.5 L284.2 391.0 L288.0 390.5 L291.8 390.2 L295.5 390.2 L299.2 390.2 L303.0 390.5 L306.8 390.5 L310.5 390.2 L314.2 390.2 L318.0 390.6 L321.8 390.0 L325.5 388.8 L329.2 388.5 L333.0 387.8 L336.8 386.9 L340.5 386.0 L344.2 385.0 L348.0 385.0 L351.8 385.2 L355.8 385.5 L359.5 386.0 L363.2 387.0 L367.0 388.0 L370.8 388.2 L374.5 388.2 L378.2 388.5 L382.0 389.2 L385.8 389.8 L389.5 389.8 L393.2 390.1 L397.0 389.8 L400.8 389.5 L404.5 389.2 L408.2 388.9 L412.0 388.5 L415.8 388.5 L419.5 387.6 L423.2 385.8 L427.0 384.8 L430.8 384.1 L434.5 383.5 L438.2 383.2 L442.0 383.5 L445.8 382.6 L449.5 381.1 L453.2 378.9 L457.0 376.4 L460.0 375.0 L463.8 372.0 L467.5 369.1 L471.2 366.6 L475.0 364.5 L478.8 362.5 L482.5 360.4 L486.2 357.9 L490.0 355.4 L493.8 353.2 L497.5 351.6 L501.2 349.8 L505.0 347.9 L508.8 346.0 L512.5 344.8 L516.2 343.8 L520.0 342.9 L523.8 343.5 L527.5 344.5 L531.2 345.1 L535.0 345.6 L538.8 345.6 L542.5 345.4 L546.2 345.4 L550.0 346.6 L553.8 348.2 L557.5 349.8 L561.2 351.2 L565.0 353.2 L568.8 355.4 L572.5 357.5 L576.2 359.8 L580.0 361.6 L583.8 362.5 L587.5 364.4 L591.2 366.2 L595.0 368.1 L598.8 369.8 L602.5 371.0 L606.2 372.5 L610.0 374.0 L613.8 375.0 L617.5 375.6 L621.2 375.6 L625.0 375.2 L628.8 374.8 L632.5 374.0 L636.2 373.1 L640.0 372.2 L643.8 371.2 L647.5 370.2 L651.2 369.4 L655.0 368.5 L658.8 367.5 L662.5 366.5 L666.2 365.6 L670.0 364.8 L673.8 363.8 L677.5 362.8 L681.2 361.5 L685.0 360.0 L688.8 358.5 L692.5 356.9 L696.2 355.4 L700.0 354.0 L703.8 353.9 L707.5 352.2 L711.2 350.8 L715.0 349.2 L718.8 347.6 L722.5 346.1 L726.2 345.1 L730.0 344.8 L733.8 344.5 L737.5 344.5 L741.2 344.5 L745.0 344.5 L748.8 344.2 L752.5 343.9 L756.2 343.5 L760.0 343.0 L763.8 342.6 L767.5 342.2 L771.2 341.8 L775.0 341.0 L778.8 340.1 L782.5 338.9 L786.2 338.2 L790.0 338.0 L793.8 337.6 L797.5 337.2 L801.2 336.4 L805.0 334.5 L808.8 332.0 L812.5 329.2 L816.2 326.8 L820.0 324.2 L823.8 322.0 L828.0 319.8 L833.5 313.9 L839.8 308.9 L846.0 303.9 L852.2 298.9 L858.5 294.0 L862.2 291.4 L866.0 288.2 L869.8 285.1 L873.5 282.0 L877.2 278.9 L881.0 275.5 L884.8 272.0 L888.5 268.5 L892.2 265.1 L896.0 262.0 L899.8 258.9 L903.5 255.1 L907.2 251.4 L911.0 247.6 L914.8 243.9 L918.5 240.1 L922.2 236.4 L928.1 230.2 L931.2 228.0 L935.0 225.4 L938.8 222.9 L942.5 220.8 L946.2 219.1 L950.0 216.6 L953.1 214.4" fill="none" stroke="#d61f66" stroke-width="1.3" stroke-linejoin="round"/>
</g>
<rect x="139" y="430" width="67" height="48" fill="#fff"/>
<rect x="882" y="76" width="66.5" height="52" fill="#fff"/>
<text x="914.5" y="96.0" font-size="26.0" font-weight="bold" fill="#000" text-anchor="middle" textLength="65.0" lengthAdjust="spacingAndGlyphs">06/06</text>
<text x="914.7" y="126.6" font-size="26.0" font-weight="bold" fill="#000" text-anchor="middle" textLength="50.0" lengthAdjust="spacingAndGlyphs">38.4</text>
<rect x="193" y="94" width="153.5" height="60" fill="#fff"/>
<line x1="111" x2="193" y1="107.5" y2="107.5" stroke="#8fb4c9" stroke-width="1.2"/>
<line x1="111" x2="193" y1="138" y2="138" stroke="#dcb3c3" stroke-width="1.2"/>
<text x="194.0" y="115.6" font-size="26.0" font-weight="bold" fill="#138bb2" text-anchor="start" textLength="152.0" lengthAdjust="spacingAndGlyphs">MA10(36.06)</text>
<text x="194.0" y="146.2" font-size="26.0" font-weight="bold" fill="#d40d62" text-anchor="start" textLength="152.0" lengthAdjust="spacingAndGlyphs">MA30(33.88)</text>
<rect x="106.5" y="477.5" width="849.5" height="127.0" fill="#fff"/>
<text x="172.0" y="454.0" font-size="26.0" font-weight="bold" fill="#000" text-anchor="middle" textLength="65.0" lengthAdjust="spacingAndGlyphs">07/15</text>
<clipPath id="c1"><rect x="100" y="420" width="200" height="57.5"/></clipPath>
<text x="172.0" y="484.5" font-size="26.0" font-weight="bold" fill="#000" text-anchor="middle" textLength="65.0" lengthAdjust="spacingAndGlyphs" clip-path="url(#c1)">21.85</text>
<line x1="104.5" x2="956.0" y1="604.7" y2="604.7" stroke="#55404a" stroke-width="1.2"/>
<g id="vol">
<rect x="109.15" y="601.30" width="1.7" height="3.50" fill="#f2408f" stroke="#a5125a" stroke-width="0.85"/>
<rect x="112.60" y="603.20" width="1.7" height="1.60" fill="#f2408f" stroke="#a5125a" stroke-width="0.85"/>
<rect x="116.06" y="602.80" width="1.7" height="2.00" fill="#f2408f" stroke="#a5125a" stroke-width="0.85"/>
<rect x="119.51" y="602.80" width="1.7" height="2.00" fill="#f2408f" stroke="#a5125a" stroke-width="0.85"/>
<rect x="122.97" y="602.80" width="1.7" height="2.00" fill="#f2408f" stroke="#a5125a" stroke-width="0.85"/>
<rect x="126.07" y="603.80" width="2.4" height="1.00" fill="#b8155c"/>
<rect x="129.52" y="604.00" width="2.4" height="0.80" fill="#b8155c"/>
<rect x="133.33" y="597.80" width="1.7" height="7.00" fill="#f2408f" stroke="#a5125a" stroke-width="0.85"/>
<rect x="136.78" y="598.20" width="1.7" height="6.60" fill="#f2408f" stroke="#a5125a" stroke-width="0.85"/>
<rect x="140.24" y="602.30" width="1.7" height="2.50" fill="#f2408f" stroke="#a5125a" stroke-width="0.85"/>
<rect x="143.69" y="602.30" width="1.7" height="2.50" fill="#f2408f" stroke="#a5125a" stroke-width="0.85"/>
<rect x="147.14" y="603.20" width="1.7" height="1.60" fill="#f2408f" stroke="#a5125a" stroke-width="0.85"/>
<rect x="150.25" y="603.20" width="2.4" height="1.60" fill="#b8155c"/>
<rect x="154.05" y="603.20" width="1.7" height="1.60" fill="#f2408f" stroke="#a5125a" stroke-width="0.85"/>
<rect x="157.16" y="603.40" width="2.4" height="1.40" fill="#b8155c"/>
<rect x="160.96" y="599.80" width="1.7" height="5.00" fill="#f2408f" stroke="#a5125a" stroke-width="0.85"/>
<rect x="164.41" y="599.40" width="1.7" height="5.40" fill="#f2408f" stroke="#a5125a" stroke-width="0.85"/>
<rect x="167.87" y="597.60" width="1.7" height="7.20" fill="#f2408f" stroke="#a5125a" stroke-width="0.85"/>
<rect x="171.32" y="594.40" width="1.7" height="10.40" fill="#f2408f" stroke="#a5125a" stroke-width="0.85"/>
<rect x="174.78" y="599.00" width="1.7" height="5.80" fill="#f2408f" stroke="#a5125a" stroke-width="0.85"/>
<rect x="178.23" y="600.00" width="1.7" height="4.80" fill="#f2408f" stroke="#a5125a" stroke-width="0.85"/>
<rect x="181.68" y="602.30" width="1.7" height="2.50" fill="#f2408f" stroke="#a5125a" stroke-width="0.85"/>
<rect x="184.79" y="603.40" width="2.4" height="1.40" fill="#b8155c"/>
<rect x="188.24" y="603.20" width="2.4" height="1.60" fill="#b8155c"/>
<rect x="192.05" y="603.30" width="1.7" height="1.50" fill="#f2408f" stroke="#a5125a" stroke-width="0.85"/>
<rect x="195.15" y="603.40" width="2.4" height="1.40" fill="#b8155c"/>
<rect x="198.60" y="603.80" width="2.4" height="1.00" fill="#b8155c"/>
<rect x="202.06" y="603.70" width="2.4" height="1.10" fill="#b8155c"/>
<rect x="205.51" y="604.00" width="2.4" height="0.80" fill="#b8155c"/>
<rect x="208.97" y="603.90" width="2.4" height="0.90" fill="#b8155c"/>
<rect x="212.42" y="603.90" width="2.4" height="0.90" fill="#b8155c"/>
<rect x="216.22" y="601.60" width="1.7" height="3.20" fill="#f2408f" stroke="#a5125a" stroke-width="0.85"/>
<rect x="219.33" y="604.00" width="2.4" height="0.80" fill="#b8155c"/>
<rect x="222.78" y="603.20" width="2.4" height="1.60" fill="#b8155c"/>
<rect x="226.24" y="603.70" width="2.4" height="1.10" fill="#b8155c"/>
<rect x="229.69" y="603.40" width="2.4" height="1.40" fill="#b8155c"/>
<rect x="233.14" y="603.20" width="2.4" height="1.60" fill="#b8155c"/>
<rect x="236.95" y="603.20" width="1.7" height="1.60" fill="#f2408f" stroke="#a5125a" stroke-width="0.85"/>
<rect x="240.05" y="604.00" width="2.4" height="0.80" fill="#b8155c"/>
<rect x="243.51" y="603.40" width="2.4" height="1.40" fill="#b8155c"/>
<rect x="247.31" y="599.40" width="1.7" height="5.40" fill="#f2408f" stroke="#a5125a" stroke-width="0.85"/>
<rect x="250.76" y="603.20" width="1.7" height="1.60" fill="#f2408f" stroke="#a5125a" stroke-width="0.85"/>
<rect x="254.22" y="596.05" width="1.7" height="8.75" fill="#f2408f" stroke="#a5125a" stroke-width="0.85"/>
<rect x="257.67" y="602.60" width="1.7" height="2.20" fill="#f2408f" stroke="#a5125a" stroke-width="0.85"/>
<rect x="261.13" y="594.40" width="1.7" height="10.40" fill="#f2408f" stroke="#a5125a" stroke-width="0.85"/>
<rect x="264.58" y="600.70" width="1.7" height="4.10" fill="#f2408f" stroke="#a5125a" stroke-width="0.85"/>
<rect x="267.68" y="603.40" width="2.4" height="1.40" fill="#b8155c"/>
<rect x="271.14" y="603.20" width="2.4" height="1.60" fill="#b8155c"/>
<rect x="274.59" y="604.00" width="2.4" height="0.80" fill="#b8155c"/>
<rect x="278.40" y="603.20" width="1.7" height="1.60" fill="#f2408f" stroke="#a5125a" stroke-width="0.85"/>
<rect x="281.50" y="603.70" width="2.4" height="1.10" fill="#b8155c"/>
<rect x="285.30" y="603.20" width="1.7" height="1.60" fill="#f2408f" stroke="#a5125a" stroke-width="0.85"/>
<rect x="288.41" y="603.20" width="2.4" height="1.60" fill="#b8155c"/>
<rect x="291.86" y="603.80" width="2.4" height="1.00" fill="#b8155c"/>
<rect x="295.32" y="604.00" width="2.4" height="0.80" fill="#b8155c"/>
<rect x="298.77" y="603.70" width="2.4" height="1.10" fill="#b8155c"/>
<rect x="302.57" y="603.30" width="1.7" height="1.50" fill="#f2408f" stroke="#a5125a" stroke-width="0.85"/>
<rect x="305.68" y="604.10" width="2.4" height="0.70" fill="#b8155c"/>
<rect x="309.13" y="603.90" width="2.4" height="0.90" fill="#b8155c"/>
<rect x="312.59" y="603.20" width="2.4" height="1.60" fill="#b8155c"/>
<rect x="316.39" y="603.20" width="1.7" height="1.60" fill="#f2408f" stroke="#a5125a" stroke-width="0.85"/>
<rect x="319.49" y="603.40" width="2.4" height="1.40" fill="#b8155c"/>
<rect x="323.30" y="599.20" width="1.7" height="5.60" fill="#f2408f" stroke="#a5125a" stroke-width="0.85"/>
<rect x="326.75" y="602.80" width="1.7" height="2.00" fill="#f2408f" stroke="#a5125a" stroke-width="0.85"/>
<rect x="329.86" y="604.00" width="2.4" height="0.80" fill="#b8155c"/>
<rect x="333.66" y="602.30" width="1.7" height="2.50" fill="#f2408f" stroke="#a5125a" stroke-width="0.85"/>
<rect x="337.11" y="603.20" width="1.7" height="1.60" fill="#f2408f" stroke="#a5125a" stroke-width="0.85"/>
<rect x="340.22" y="603.20" width="2.4" height="1.60" fill="#b8155c"/>
<rect x="344.02" y="600.70" width="1.7" height="4.10" fill="#f2408f" stroke="#a5125a" stroke-width="0.85"/>
<rect x="347.48" y="602.60" width="1.7" height="2.20" fill="#f2408f" stroke="#a5125a" stroke-width="0.85"/>
<rect x="350.93" y="599.40" width="1.7" height="5.40" fill="#f2408f" stroke="#a5125a" stroke-width="0.85"/>
<rect x="354.38" y="602.80" width="1.7" height="2.00" fill="#f2408f" stroke="#a5125a" stroke-width="0.85"/>
<rect x="357.49" y="603.40" width="2.4" height="1.40" fill="#b8155c"/>
<rect x="360.94" y="604.10" width="2.4" height="0.70" fill="#b8155c"/>
<rect x="364.40" y="604.10" width="2.4" height="0.70" fill="#b8155c"/>
<rect x="367.85" y="603.80" width="2.4" height="1.00" fill="#b8155c"/>
<rect x="371.65" y="603.20" width="1.7" height="1.60" fill="#f2408f" stroke="#a5125a" stroke-width="0.85"/>
<rect x="375.11" y="601.30" width="1.7" height="3.50" fill="#f2408f" stroke="#a5125a" stroke-width="0.85"/>
<rect x="378.56" y="601.90" width="1.7" height="2.90" fill="#f2408f" stroke="#a5125a" stroke-width="0.85"/>
<rect x="382.02" y="603.20" width="1.7" height="1.60" fill="#f2408f" stroke="#a5125a" stroke-width="0.85"/>
<rect x="385.47" y="601.30" width="1.7" height="3.50" fill="#f2408f" stroke="#a5125a" stroke-width="0.85"/>
<rect x="388.92" y="601.30" width="1.7" height="3.50" fill="#f2408f" stroke="#a5125a" stroke-width="0.85"/>
<rect x="392.38" y="601.60" width="1.7" height="3.20" fill="#f2408f" stroke="#a5125a" stroke-width="0.85"/>
<rect x="395.83" y="599.40" width="1.7" height="5.40" fill="#f2408f" stroke="#a5125a" stroke-width="0.85"/>
<rect x="399.29" y="602.30" width="1.7" height="2.50" fill="#f2408f" stroke="#a5125a" stroke-width="0.85"/>
<rect x="402.74" y="597.30" width="1.7" height="7.50" fill="#f2408f" stroke="#a5125a" stroke-width="0.85"/>
<rect x="405.84" y="604.00" width="2.4" height="0.80" fill="#b8155c"/>
<rect x="409.65" y="603.20" width="1.7" height="1.60" fill="#f2408f" stroke="#a5125a" stroke-width="0.85"/>
<rect x="413.10" y="603.20" width="1.7" height="1.60" fill="#f2408f" stroke="#a5125a" stroke-width="0.85"/>
<rect x="416.56" y="602.60" width="1.7" height="2.20" fill="#f2408f" stroke="#a5125a" stroke-width="0.85"/>
<rect x="420.01" y="584.40" width="1.7" height="20.40" fill="#f2408f" stroke="#a5125a" stroke-width="0.85"/>
<rect x="423.46" y="590.30" width="1.7" height="14.50" fill="#f2408f" stroke="#a5125a" stroke-width="0.85"/>
<rect x="426.92" y="595.30" width="1.7" height="9.50" fill="#f2408f" stroke="#a5125a" stroke-width="0.85"/>
<rect x="430.37" y="596.60" width="1.7" height="8.20" fill="#f2408f" stroke="#a5125a" stroke-width="0.85"/>
<rect x="433.83" y="597.80" width="1.7" height="7.00" fill="#f2408f" stroke="#a5125a" stroke-width="0.85"/>
<rect x="437.28" y="597.30" width="1.7" height="7.50" fill="#f2408f" stroke="#a5125a" stroke-width="0.85"/>
<rect x="440.73" y="601.30" width="1.7" height="3.50" fill="#f2408f" stroke="#a5125a" stroke-width="0.85"/>
<rect x="444.19" y="596.90" width="1.7" height="7.90" fill="#f2408f" stroke="#a5125a" stroke-width="0.85"/>
<rect x="447.64" y="596.60" width="1.7" height="8.20" fill="#f2408f" stroke="#a5125a" stroke-width="0.85"/>
<rect x="451.10" y="599.40" width="1.7" height="5.40" fill="#f2408f" stroke="#a5125a" stroke-width="0.85"/>
<rect x="454.55" y="601.60" width="1.7" height="3.20" fill="#f2408f" stroke="#a5125a" stroke-width="0.85"/>
<rect x="458.00" y="596.90" width="1.7" height="7.90" fill="#f2408f" stroke="#a5125a" stroke-width="0.85"/>
<rect x="461.46" y="586.30" width="1.7" height="18.50" fill="#f2408f" stroke="#a5125a" stroke-width="0.85"/>
<rect x="464.91" y="589.40" width="1.7" height="15.40" fill="#f2408f" stroke="#a5125a" stroke-width="0.85"/>
<rect x="468.37" y="593.80" width="1.7" height="11.00" fill="#f2408f" stroke="#a5125a" stroke-width="0.85"/>
<rect x="471.82" y="599.40" width="1.7" height="5.40" fill="#f2408f" stroke="#a5125a" stroke-width="0.85"/>
<rect x="475.27" y="598.80" width="1.7" height="6.00" fill="#f2408f" stroke="#a5125a" stroke-width="0.85"/>
<rect x="478.73" y="597.30" width="1.7" height="7.50" fill="#f2408f" stroke="#a5125a" stroke-width="0.85"/>
<rect x="482.18" y="596.30" width="1.7" height="8.50" fill="#f2408f" stroke="#a5125a" stroke-width="0.85"/>
<rect x="485.64" y="597.80" width="1.7" height="7.00" fill="#f2408f" stroke="#a5125a" stroke-width="0.85"/>
<rect x="489.09" y="601.05" width="1.7" height="3.75" fill="#f2408f" stroke="#a5125a" stroke-width="0.85"/>
<rect x="492.19" y="603.80" width="2.4" height="1.00" fill="#b8155c"/>
<rect x="496.00" y="601.60" width="1.7" height="3.20" fill="#f2408f" stroke="#a5125a" stroke-width="0.85"/>
<rect x="499.45" y="601.60" width="1.7" height="3.20" fill="#f2408f" stroke="#a5125a" stroke-width="0.85"/>
<rect x="502.91" y="602.80" width="1.7" height="2.00" fill="#f2408f" stroke="#a5125a" stroke-width="0.85"/>
<rect x="506.36" y="599.40" width="1.7" height="5.40" fill="#f2408f" stroke="#a5125a" stroke-width="0.85"/>
<rect x="509.81" y="600.30" width="1.7" height="4.50" fill="#f2408f" stroke="#a5125a" stroke-width="0.85"/>
<rect x="513.27" y="577.80" width="1.7" height="27.00" fill="#f2408f" stroke="#a5125a" stroke-width="0.85"/>
<rect x="516.72" y="595.70" width="1.7" height="9.10" fill="#f2408f" stroke="#a5125a" stroke-width="0.85"/>
<rect x="520.18" y="598.20" width="1.7" height="6.60" fill="#f2408f" stroke="#a5125a" stroke-width="0.85"/>
<rect x="523.63" y="596.90" width="1.7" height="7.90" fill="#f2408f" stroke="#a5125a" stroke-width="0.85"/>
<rect x="527.08" y="595.70" width="1.7" height="9.10" fill="#f2408f" stroke="#a5125a" stroke-width="0.85"/>
<rect x="530.54" y="603.20" width="1.7" height="1.60" fill="#f2408f" stroke="#a5125a" stroke-width="0.85"/>
<rect x="533.99" y="602.30" width="1.7" height="2.50" fill="#f2408f" stroke="#a5125a" stroke-width="0.85"/>
<rect x="537.45" y="600.30" width="1.7" height="4.50" fill="#f2408f" stroke="#a5125a" stroke-width="0.85"/>
<rect x="540.90" y="602.60" width="1.7" height="2.20" fill="#f2408f" stroke="#a5125a" stroke-width="0.85"/>
<rect x="544.35" y="598.80" width="1.7" height="6.00" fill="#f2408f" stroke="#a5125a" stroke-width="0.85"/>
<rect x="547.81" y="602.80" width="1.7" height="2.00" fill="#f2408f" stroke="#a5125a" stroke-width="0.85"/>
<rect x="551.26" y="601.05" width="1.7" height="3.75" fill="#f2408f" stroke="#a5125a" stroke-width="0.85"/>
<rect x="554.72" y="602.80" width="1.7" height="2.00" fill="#f2408f" stroke="#a5125a" stroke-width="0.85"/>
<rect x="558.17" y="601.60" width="1.7" height="3.20" fill="#f2408f" stroke="#a5125a" stroke-width="0.85"/>
<rect x="561.27" y="603.65" width="2.4" height="1.15" fill="#b8155c"/>
<rect x="564.73" y="604.10" width="2.4" height="0.70" fill="#b8155c"/>
<rect x="568.18" y="603.90" width="2.4" height="0.90" fill="#b8155c"/>
<rect x="571.64" y="603.80" width="2.4" height="1.00" fill="#b8155c"/>
<rect x="575.09" y="603.80" width="2.4" height="1.00" fill="#b8155c"/>
<rect x="578.54" y="603.80" width="2.4" height="1.00" fill="#b8155c"/>
<rect x="582.00" y="603.65" width="2.4" height="1.15" fill="#b8155c"/>
<rect x="585.80" y="603.20" width="1.7" height="1.60" fill="#f2408f" stroke="#a5125a" stroke-width="0.85"/>
<rect x="589.26" y="603.30" width="1.7" height="1.50" fill="#f2408f" stroke="#a5125a" stroke-width="0.85"/>
<rect x="592.36" y="603.40" width="2.4" height="1.40" fill="#b8155c"/>
<rect x="596.16" y="601.60" width="1.7" height="3.20" fill="#f2408f" stroke="#a5125a" stroke-width="0.85"/>
<rect x="599.62" y="602.80" width="1.7" height="2.00" fill="#f2408f" stroke="#a5125a" stroke-width="0.85"/>
<rect x="603.07" y="603.20" width="1.7" height="1.60" fill="#f2408f" stroke="#a5125a" stroke-width="0.85"/>
<rect x="606.53" y="600.30" width="1.7" height="4.50" fill="#f2408f" stroke="#a5125a" stroke-width="0.85"/>
<rect x="609.98" y="602.80" width="1.7" height="2.00" fill="#f2408f" stroke="#a5125a" stroke-width="0.85"/>
<rect x="613.08" y="603.40" width="2.4" height="1.40" fill="#b8155c"/>
<rect x="616.54" y="603.65" width="2.4" height="1.15" fill="#b8155c"/>
<rect x="620.34" y="603.20" width="1.7" height="1.60" fill="#f2408f" stroke="#a5125a" stroke-width="0.85"/>
<rect x="623.80" y="599.40" width="1.7" height="5.40" fill="#f2408f" stroke="#a5125a" stroke-width="0.85"/>
<rect x="627.25" y="601.90" width="1.7" height="2.90" fill="#f2408f" stroke="#a5125a" stroke-width="0.85"/>
<rect x="630.70" y="599.80" width="1.7" height="5.00" fill="#f2408f" stroke="#a5125a" stroke-width="0.85"/>
<rect x="634.16" y="601.60" width="1.7" height="3.20" fill="#f2408f" stroke="#a5125a" stroke-width="0.85"/>
<rect x="637.61" y="603.20" width="1.7" height="1.60" fill="#f2408f" stroke="#a5125a" stroke-width="0.85"/>
<rect x="640.72" y="603.20" width="2.4" height="1.60" fill="#b8155c"/>
<rect x="644.52" y="602.80" width="1.7" height="2.00" fill="#f2408f" stroke="#a5125a" stroke-width="0.85"/>
<rect x="647.97" y="602.30" width="1.7" height="2.50" fill="#f2408f" stroke="#a5125a" stroke-width="0.85"/>
<rect x="651.43" y="603.20" width="1.7" height="1.60" fill="#f2408f" stroke="#a5125a" stroke-width="0.85"/>
<rect x="654.88" y="602.80" width="1.7" height="2.00" fill="#f2408f" stroke="#a5125a" stroke-width="0.85"/>
<rect x="657.99" y="603.40" width="2.4" height="1.40" fill="#b8155c"/>
<rect x="661.79" y="603.20" width="1.7" height="1.60" fill="#f2408f" stroke="#a5125a" stroke-width="0.85"/>
<rect x="664.89" y="603.40" width="2.4" height="1.40" fill="#b8155c"/>
<rect x="668.35" y="603.40" width="2.4" height="1.40" fill="#b8155c"/>
<rect x="672.15" y="603.30" width="1.7" height="1.50" fill="#f2408f" stroke="#a5125a" stroke-width="0.85"/>
<rect x="675.26" y="603.90" width="2.4" height="0.90" fill="#b8155c"/>
<rect x="679.06" y="601.90" width="1.7" height="2.90" fill="#f2408f" stroke="#a5125a" stroke-width="0.85"/>
<rect x="682.51" y="597.55" width="1.7" height="7.25" fill="#f2408f" stroke="#a5125a" stroke-width="0.85"/>
<rect x="685.97" y="594.40" width="1.7" height="10.40" fill="#f2408f" stroke="#a5125a" stroke-width="0.85"/>
<rect x="689.42" y="597.30" width="1.7" height="7.50" fill="#f2408f" stroke="#a5125a" stroke-width="0.85"/>
<rect x="692.88" y="602.80" width="1.7" height="2.00" fill="#f2408f" stroke="#a5125a" stroke-width="0.85"/>
<rect x="696.33" y="597.80" width="1.7" height="7.00" fill="#f2408f" stroke="#a5125a" stroke-width="0.85"/>
<rect x="699.78" y="599.40" width="1.7" height="5.40" fill="#f2408f" stroke="#a5125a" stroke-width="0.85"/>
<rect x="703.24" y="596.55" width="1.7" height="8.25" fill="#f2408f" stroke="#a5125a" stroke-width="0.85"/>
<rect x="706.69" y="600.30" width="1.7" height="4.50" fill="#f2408f" stroke="#a5125a" stroke-width="0.85"/>
<rect x="710.15" y="594.40" width="1.7" height="10.40" fill="#f2408f" stroke="#a5125a" stroke-width="0.85"/>
<rect x="713.60" y="597.30" width="1.7" height="7.50" fill="#f2408f" stroke="#a5125a" stroke-width="0.85"/>
<rect x="717.05" y="601.90" width="1.7" height="2.90" fill="#f2408f" stroke="#a5125a" stroke-width="0.85"/>
<rect x="720.51" y="602.30" width="1.7" height="2.50" fill="#f2408f" stroke="#a5125a" stroke-width="0.85"/>
<rect x="723.61" y="603.20" width="2.4" height="1.60" fill="#b8155c"/>
<rect x="727.42" y="601.60" width="1.7" height="3.20" fill="#f2408f" stroke="#a5125a" stroke-width="0.85"/>
<rect x="730.87" y="598.60" width="1.7" height="6.20" fill="#f2408f" stroke="#a5125a" stroke-width="0.85"/>
<rect x="734.32" y="603.20" width="1.7" height="1.60" fill="#f2408f" stroke="#a5125a" stroke-width="0.85"/>
<rect x="737.78" y="599.80" width="1.7" height="5.00" fill="#f2408f" stroke="#a5125a" stroke-width="0.85"/>
<rect x="741.23" y="602.30" width="1.7" height="2.50" fill="#f2408f" stroke="#a5125a" stroke-width="0.85"/>
<rect x="744.69" y="601.90" width="1.7" height="2.90" fill="#f2408f" stroke="#a5125a" stroke-width="0.85"/>
<rect x="748.14" y="602.30" width="1.7" height="2.50" fill="#f2408f" stroke="#a5125a" stroke-width="0.85"/>
<rect x="751.59" y="591.90" width="1.7" height="12.90" fill="#f2408f" stroke="#a5125a" stroke-width="0.85"/>
<rect x="755.05" y="600.05" width="1.7" height="4.75" fill="#f2408f" stroke="#a5125a" stroke-width="0.85"/>
<rect x="758.50" y="602.80" width="1.7" height="2.00" fill="#f2408f" stroke="#a5125a" stroke-width="0.85"/>
<rect x="761.61" y="603.20" width="2.4" height="1.60" fill="#b8155c"/>
<rect x="765.06" y="603.65" width="2.4" height="1.15" fill="#b8155c"/>
<rect x="768.51" y="603.20" width="2.4" height="1.60" fill="#b8155c"/>
<rect x="772.32" y="602.60" width="1.7" height="2.20" fill="#f2408f" stroke="#a5125a" stroke-width="0.85"/>
<rect x="775.77" y="601.90" width="1.7" height="2.90" fill="#f2408f" stroke="#a5125a" stroke-width="0.85"/>
<rect x="779.23" y="600.70" width="1.7" height="4.10" fill="#f2408f" stroke="#a5125a" stroke-width="0.85"/>
<rect x="782.68" y="601.90" width="1.7" height="2.90" fill="#f2408f" stroke="#a5125a" stroke-width="0.85"/>
<rect x="786.13" y="601.90" width="1.7" height="2.90" fill="#f2408f" stroke="#a5125a" stroke-width="0.85"/>
<rect x="789.59" y="599.80" width="1.7" height="5.00" fill="#f2408f" stroke="#a5125a" stroke-width="0.85"/>
<rect x="793.04" y="601.90" width="1.7" height="2.90" fill="#f2408f" stroke="#a5125a" stroke-width="0.85"/>
<rect x="796.50" y="596.90" width="1.7" height="7.90" fill="#f2408f" stroke="#a5125a" stroke-width="0.85"/>
<rect x="799.95" y="599.80" width="1.7" height="5.00" fill="#f2408f" stroke="#a5125a" stroke-width="0.85"/>
<rect x="803.40" y="529.80" width="1.7" height="75.00" fill="#f2408f" stroke="#a5125a" stroke-width="0.85"/>
<rect x="806.86" y="474.80" width="1.7" height="130.00" fill="#f2408f" stroke="#a5125a" stroke-width="0.85"/>
<rect x="810.31" y="513.80" width="1.7" height="91.00" fill="#f2408f" stroke="#a5125a" stroke-width="0.85"/>
<rect x="813.77" y="561.05" width="1.7" height="43.75" fill="#f2408f" stroke="#a5125a" stroke-width="0.85"/>
<rect x="817.22" y="544.80" width="1.7" height="60.00" fill="#f2408f" stroke="#a5125a" stroke-width="0.85"/>
<rect x="820.67" y="573.05" width="1.7" height="31.75" fill="#f2408f" stroke="#a5125a" stroke-width="0.85"/>
<rect x="824.13" y="582.30" width="1.7" height="22.50" fill="#f2408f" stroke="#a5125a" stroke-width="0.85"/>
<rect x="827.58" y="586.05" width="1.7" height="18.75" fill="#f2408f" stroke="#a5125a" stroke-width="0.85"/>
<rect x="831.04" y="586.05" width="1.7" height="18.75" fill="#f2408f" stroke="#a5125a" stroke-width="0.85"/>
<rect x="834.49" y="569.80" width="1.7" height="35.00" fill="#f2408f" stroke="#a5125a" stroke-width="0.85"/>
<rect x="837.94" y="587.30" width="1.7" height="17.50" fill="#f2408f" stroke="#a5125a" stroke-width="0.85"/>
<rect x="841.40" y="596.05" width="1.7" height="8.75" fill="#f2408f" stroke="#a5125a" stroke-width="0.85"/>
<rect x="844.85" y="549.80" width="1.7" height="55.00" fill="#f2408f" stroke="#a5125a" stroke-width="0.85"/>
<rect x="848.31" y="588.55" width="1.7" height="16.25" fill="#f2408f" stroke="#a5125a" stroke-width="0.85"/>
<rect x="851.76" y="596.05" width="1.7" height="8.75" fill="#f2408f" stroke="#a5125a" stroke-width="0.85"/>
<rect x="855.21" y="601.05" width="1.7" height="3.75" fill="#f2408f" stroke="#a5125a" stroke-width="0.85"/>
<rect x="858.67" y="597.30" width="1.7" height="7.50" fill="#f2408f" stroke="#a5125a" stroke-width="0.85"/>
<rect x="862.12" y="598.55" width="1.7" height="6.25" fill="#f2408f" stroke="#a5125a" stroke-width="0.85"/>
<rect x="865.58" y="593.55" width="1.7" height="11.25" fill="#f2408f" stroke="#a5125a" stroke-width="0.85"/>
<rect x="869.03" y="594.80" width="1.7" height="10.00" fill="#f2408f" stroke="#a5125a" stroke-width="0.85"/>
<rect x="872.48" y="592.30" width="1.7" height="12.50" fill="#f2408f" stroke="#a5125a" stroke-width="0.85"/>
<rect x="875.94" y="593.55" width="1.7" height="11.25" fill="#f2408f" stroke="#a5125a" stroke-width="0.85"/>
<rect x="879.39" y="559.05" width="1.7" height="45.75" fill="#f2408f" stroke="#a5125a" stroke-width="0.85"/>
<rect x="882.85" y="578.55" width="1.7" height="26.25" fill="#f2408f" stroke="#a5125a" stroke-width="0.85"/>
<rect x="886.30" y="586.80" width="1.7" height="18.00" fill="#f2408f" stroke="#a5125a" stroke-width="0.85"/>
<rect x="889.75" y="587.30" width="1.7" height="17.50" fill="#f2408f" stroke="#a5125a" stroke-width="0.85"/>
<rect x="893.21" y="593.55" width="1.7" height="11.25" fill="#f2408f" stroke="#a5125a" stroke-width="0.85"/>
<rect x="896.66" y="594.80" width="1.7" height="10.00" fill="#f2408f" stroke="#a5125a" stroke-width="0.85"/>
<rect x="900.12" y="594.80" width="1.7" height="10.00" fill="#f2408f" stroke="#a5125a" stroke-width="0.85"/>
<rect x="903.57" y="551.05" width="1.7" height="53.75" fill="#f2408f" stroke="#a5125a" stroke-width="0.85"/>
<rect x="907.02" y="575.30" width="1.7" height="29.50" fill="#f2408f" stroke="#a5125a" stroke-width="0.85"/>
<rect x="910.48" y="526.55" width="1.7" height="78.25" fill="#f2408f" stroke="#a5125a" stroke-width="0.85"/>
<rect x="913.93" y="520.55" width="1.7" height="84.25" fill="#f2408f" stroke="#a5125a" stroke-width="0.85"/>
<rect x="917.39" y="579.80" width="1.7" height="25.00" fill="#f2408f" stroke="#a5125a" stroke-width="0.85"/>
<rect x="920.84" y="583.55" width="1.7" height="21.25" fill="#f2408f" stroke="#a5125a" stroke-width="0.85"/>
<rect x="924.29" y="579.80" width="1.7" height="25.00" fill="#f2408f" stroke="#a5125a" stroke-width="0.85"/>
<rect x="927.75" y="584.05" width="1.7" height="20.75" fill="#f2408f" stroke="#a5125a" stroke-width="0.85"/>
<rect x="931.20" y="584.80" width="1.7" height="20.00" fill="#f2408f" stroke="#a5125a" stroke-width="0.85"/>
<rect x="934.66" y="584.80" width="1.7" height="20.00" fill="#f2408f" stroke="#a5125a" stroke-width="0.85"/>
<rect x="938.11" y="589.80" width="1.7" height="15.00" fill="#f2408f" stroke="#a5125a" stroke-width="0.85"/>
<rect x="941.56" y="524.80" width="1.7" height="80.00" fill="#f2408f" stroke="#a5125a" stroke-width="0.85"/>
<rect x="945.02" y="514.05" width="1.7" height="90.75" fill="#f2408f" stroke="#a5125a" stroke-width="0.85"/>
<rect x="948.47" y="541.05" width="1.7" height="63.75" fill="#f2408f" stroke="#a5125a" stroke-width="0.85"/>
<rect x="951.93" y="514.30" width="1.7" height="90.50" fill="#f2408f" stroke="#a5125a" stroke-width="0.85"/>
</g>
<text x="109.6 136.3 163.0" y="503.82" font-size="26.5" fill="#d40d62" text-anchor="start" style="font-family:'Liberation Sans','Noto Sans CJK TC',sans-serif">成交量</text>
<text x="190.2" y="503.5" font-size="25.0" font-weight="bold" fill="#d40d62" text-anchor="start">(</text>
<text x="198.7" y="503.82" font-size="26.5" fill="#d40d62" text-anchor="start" style="font-family:'Liberation Sans','Noto Sans CJK TC',sans-serif">張</text>
<text x="225.2" y="503.5" font-size="25.0" font-weight="bold" fill="#d40d62" text-anchor="start">)</text>
<g id="rsi">
<path d="M109.9 696.8 L111.8 701.0 L113.7 705.7 L116.5 702.5 L118.8 692.4 L120.9 686.9 L123.5 684.6 L125.9 686.9 L128.2 692.4 L130.9 700.2 L133.7 711.1 L136.0 722.1 L137.6 729.1 L141.2 730.2 L142.8 722.1 L144.6 711.9 L147.0 715.8 L149.3 714.2 L151.7 711.1 L154.0 714.2 L156.3 715.8 L157.9 717.4 L159.9 726.8 L161.8 733.0 L164.2 720.5 L166.5 714.2 L168.8 708.0 L171.5 706.8 L173.5 695.5 L175.1 683.0 L177.1 673.6 L179.3 668.6 L182.1 669.2 L184.5 667.7 L189.2 660.3 L193.1 654.9 L196.2 658.8 L199.3 656.1 L202.4 655.7 L206.3 652.5 L209.9 649.9 L211.5 661.1 L213.1 673.6 L215.7 681.4 L219.6 689.2 L224.3 686.1 L229.0 681.4 L233.7 676.8 L237.6 673.6 L239.2 669.7 L241.5 667.4 L243.8 668.9 L246.2 672.1 L247.8 674.4 L250.1 674.4 L251.7 672.1 L253.2 658.0 L254.8 642.4 L257.9 637.7 L260.2 629.9 L261.8 624.4 L263.6 636.1 L265.5 658.8 L267.5 656.4 L269.9 657.7 L272.2 660.3 L275.3 654.9 L276.9 665.8 L278.5 674.4 L281.6 681.4 L284.2 674.4 L286.0 664.2 L288.3 674.4 L291.8 683.0 L296.4 689.2 L301.1 686.1 L305.8 681.4 L310.5 676.8 L312.4 674.4 L313.6 670.5 L314.9 674.4 L317.5 678.3 L320.7 674.4 L322.7 664.2 L324.1 658.3 L326.1 674.4 L330.8 683.0 L334.7 678.3 L337.4 674.4 L339.4 669.7 L341.3 665.8 L343.3 674.4 L346.4 683.0 L348.8 689.2 L350.3 704.9 L351.9 716.6 L353.5 708.0 L355.0 693.2 L357.4 692.4 L359.7 691.6 L362.1 695.5 L365.2 683.8 L367.5 685.3 L369.9 681.4 L372.2 672.1 L376.1 659.6 L379.2 670.5 L382.4 681.4 L384.7 700.2 L386.3 713.5 L387.8 698.6 L389.4 680.7 L392.5 675.2 L394.9 668.2 L397.2 662.7 L399.6 670.5 L402.7 675.2 L405.8 676.8 L409.2 684.6 L411.5 689.2 L413.9 693.2 L415.4 686.1 L417.0 673.6 L418.9 654.9 L420.9 638.5 L424.0 643.2 L425.6 653.3 L427.9 666.6 L430.8 663.9 L433.4 672.1 L436.5 681.4 L438.6 686.9 L441.2 684.6 L442.8 676.8 L444.3 664.2 L445.9 660.3 L448.2 656.4 L451.4 653.3 L455.3 655.7 L458.4 647.1 L461.5 636.9 L464.7 633.3 L466.2 633.0 L469.3 636.1 L472.5 647.1 L476.4 662.7 L479.5 654.9 L482.9 646.3 L485.0 656.4 L486.5 667.4 L489.7 673.6 L493.6 673.3 L496.7 672.8 L499.0 676.8 L500.6 680.2 L502.9 670.5 L505.3 666.1 L507.3 665.0 L510.0 670.5 L511.5 683.0 L513.1 695.5 L514.7 706.4 L517.0 714.2 L520.9 720.5 L524.8 726.0 L527.9 722.8 L531.1 725.2 L532.6 717.4 L534.5 712.4 L537.3 712.4 L540.4 715.8 L542.8 717.1 L545.9 718.2 L548.2 720.5 L550.6 729.1 L551.6 729.1 L554.8 734.9 L557.1 717.4 L559.1 704.9 L561.8 711.9 L564.9 708.0 L569.1 698.6 L572.7 703.3 L576.6 707.2 L579.8 708.0 L582.9 700.2 L586.0 686.1 L589.9 683.0 L593.8 679.9 L596.9 674.4 L600.1 666.6 L603.2 663.5 L605.5 658.0 L607.4 651.0 L609.4 662.7 L611.8 678.3 L614.1 692.4 L616.5 686.1 L618.8 678.3 L621.9 661.1 L624.6 648.9 L627.9 659.9 L631.3 645.5 L634.8 642.7 L638.3 659.6 L641.5 654.1 L645.4 648.9 L648.5 657.2 L651.9 666.6 L655.5 658.8 L658.7 664.2 L662.2 678.6 L664.9 671.3 L668.8 665.8 L673.2 662.4 L676.6 672.4 L680.5 662.7 L681.6 655.6 L683.9 641.5 L687.0 627.4 L690.2 637.6 L694.1 634.5 L697.2 624.3 L700.6 622.8 L704.2 638.4 L707.8 654.0 L711.2 631.3 L713.6 657.1 L716.7 670.4 L720.6 675.9 L724.5 675.1 L727.7 686.8 L731.6 702.4 L734.7 704.8 L738.6 709.5 L742.5 711.0 L746.4 714.9 L749.5 717.3 L751.1 693.1 L752.7 667.3 L755.8 675.9 L758.9 681.3 L762.0 682.9 L766.7 682.1 L769.8 669.6 L773.0 654.8 L776.9 647.8 L780.8 639.9 L783.4 635.2 L787.5 649.0 L790.6 641.5 L794.1 662.6 L796.9 646.2 L800.3 656.3 L804.2 616.5 L807.3 614.2 L810.9 605.6 L814.4 637.6 L817.8 625.9 L821.4 641.5 L824.0 648.5 L827.9 642.8 L831.5 651.7 L834.9 638.1 L838.8 654.0 L842.0 651.7 L845.6 646.5 L849.0 664.9 L852.4 676.7 L856.0 674.0 L859.2 675.9 L863.1 677.1 L866.2 664.2 L870.1 661.8 L873.7 662.6 L877.1 648.5 L880.2 632.1 L883.4 625.9 L886.5 636.0 L888.4 649.3 L890.4 672.0 L894.0 667.3 L897.4 675.9 L900.9 684.0 L904.5 663.4 L908.4 650.9 L910.7 627.4 L913.8 623.1 L917.8 622.4 L921.7 624.3 L925.2 619.3 L928.4 638.4 L931.8 652.4 L935.2 664.9 L938.8 658.7 L942.8 679.0 L946.2 697.0 L949.8 675.1 L953.4 653.2" fill="none" stroke="#5f9db0" stroke-width="1.1" stroke-linejoin="round"/>
<path d="M109.9 713.9 L111.8 715.5 L114.2 716.1 L116.5 714.6 L118.8 711.1 L121.2 709.2 L123.5 708.8 L125.9 709.6 L128.2 711.1 L130.6 713.0 L133.7 715.8 L136.0 718.9 L138.4 721.3 L140.7 720.8 L143.1 717.4 L144.9 715.0 L147.0 716.6 L149.3 715.8 L151.7 715.0 L154.0 715.8 L156.3 716.6 L158.7 718.2 L160.6 720.8 L162.1 721.8 L164.2 718.2 L166.5 715.8 L168.8 714.2 L171.5 714.6 L173.5 709.6 L175.9 704.9 L179.0 701.4 L182.1 700.5 L185.2 699.4 L189.2 697.8 L193.1 696.3 L205.6 693.2 L221.2 691.6 L236.8 689.2 L252.4 686.1 L261.8 684.6 L271.4 686.1 L294.9 689.2 L318.3 686.1 L341.8 687.7 L348.8 689.2 L350.3 693.2 L351.9 697.1 L353.9 690.8 L355.8 689.2 L358.9 688.9 L362.1 690.0 L365.2 684.6 L368.3 686.9 L371.4 682.2 L376.1 677.1 L380.0 681.4 L383.2 686.1 L386.3 696.3 L387.8 692.4 L390.2 683.0 L393.3 679.9 L397.2 676.0 L400.3 678.6 L404.2 680.7 L406.8 681.8 L410.0 684.6 L413.9 686.1 L416.2 683.0 L418.6 673.6 L420.9 663.9 L424.0 665.0 L425.6 668.2 L428.2 673.3 L431.1 672.8 L434.2 676.0 L438.1 681.4 L441.7 679.9 L444.3 672.8 L447.5 669.7 L451.4 667.8 L455.3 668.9 L459.2 664.2 L463.1 659.2 L466.2 658.3 L469.3 659.2 L473.2 663.0 L476.4 667.1 L479.5 663.9 L482.6 661.4 L485.8 665.8 L488.9 669.7 L493.6 669.7 L497.5 669.7 L500.6 671.3 L503.7 668.9 L506.8 667.1 L510.0 670.5 L513.1 679.1 L516.2 683.8 L520.1 686.9 L524.0 689.2 L527.9 688.9 L531.1 690.5 L533.4 688.0 L536.5 687.4 L540.4 688.9 L545.1 689.6 L549.0 691.6 L551.6 694.7 L555.1 696.3 L558.7 690.0 L561.8 692.4 L565.7 690.8 L569.1 689.2 L573.5 690.8 L579.0 692.1 L582.9 690.0 L586.0 687.7 L589.9 686.4 L593.8 685.3 L598.5 683.3 L603.2 681.8 L607.1 679.6 L610.2 683.0 L614.1 687.7 L617.2 684.6 L621.2 679.1 L624.6 676.0 L627.9 677.5 L631.3 673.6 L634.8 671.8 L638.3 675.2 L642.2 672.8 L645.4 671.3 L648.5 673.3 L652.4 676.0 L656.3 673.3 L659.4 674.9 L662.6 678.3 L665.7 676.0 L669.6 674.4 L673.2 673.6 L676.6 676.0 L680.5 672.1 L683.1 666.5 L687.0 661.0 L690.2 663.4 L694.1 661.0 L697.2 657.4 L700.6 656.3 L704.2 660.2 L708.1 664.2 L711.2 655.2 L714.4 665.7 L717.5 668.8 L721.4 670.4 L725.3 669.6 L728.4 674.3 L732.3 679.8 L736.2 681.3 L740.2 682.9 L744.1 684.0 L748.8 686.5 L751.1 679.0 L752.7 672.8 L755.8 675.1 L758.9 677.1 L762.0 677.4 L766.7 677.4 L770.6 672.8 L773.8 668.8 L778.4 665.7 L783.1 662.1 L787.0 664.9 L790.6 662.6 L794.1 668.1 L797.2 663.1 L800.6 665.2 L804.2 644.6 L807.3 642.3 L810.9 635.2 L814.4 649.3 L817.8 641.2 L821.4 648.5 L824.0 651.2 L827.9 649.3 L831.5 653.7 L834.9 646.5 L838.8 654.0 L842.0 652.4 L845.6 650.1 L849.0 658.7 L852.4 663.4 L856.0 662.6 L859.2 663.4 L863.1 663.7 L866.2 659.9 L870.1 659.0 L873.7 659.5 L877.1 653.2 L880.2 647.4 L883.4 644.3 L886.5 648.5 L888.4 654.0 L890.4 661.8 L894.0 659.9 L897.4 663.4 L900.9 666.8 L904.5 659.5 L908.4 656.3 L910.7 643.8 L913.8 640.7 L917.8 640.2 L921.7 641.2 L925.2 638.7 L928.4 645.4 L931.8 650.6 L935.2 655.2 L938.8 653.2 L942.8 661.8 L946.2 670.9 L949.8 661.8 L953.4 652.8" fill="none" stroke="#d3205f" stroke-width="1.5" stroke-linejoin="round"/>
</g>
<rect x="193" y="674.5" width="156" height="61.8" fill="#fff"/>
<line x1="111" x2="193" y1="689.5" y2="689.5" stroke="#ebb9c8" stroke-width="1.2"/>
<line x1="111" x2="193" y1="720.5" y2="720.5" stroke="#aed3df" stroke-width="1.2"/>
<text x="194.0" y="698.5" font-size="26.0" font-weight="bold" fill="#d40d62" text-anchor="start" textLength="155.0" lengthAdjust="spacingAndGlyphs">RSI30(63.20)</text>
<text x="194.0" y="729.5" font-size="26.0" font-weight="bold" fill="#138bb2" text-anchor="start" textLength="155.0" lengthAdjust="spacingAndGlyphs">RSI10(63.96)</text>
<line x1="106.5" x2="106.5" y1="88.3" y2="736.5" stroke="#4a4a4a" stroke-width="1.3"/>
<line x1="956.2" x2="956.2" y1="88.3" y2="736.5" stroke="#4a4a4a" stroke-width="1.1"/>
<line x1="104.5" x2="139.0" y1="474.0" y2="474.0" stroke="#4a4a4a" stroke-width="1.4"/>
<line x1="206.0" x2="956.0" y1="474.0" y2="474.0" stroke="#4a4a4a" stroke-width="1.4"/>
<line x1="104.5" x2="193.0" y1="735.5" y2="735.5" stroke="#4a4a4a" stroke-width="1.4"/>
<line x1="349.0" x2="956.0" y1="735.5" y2="735.5" stroke="#4a4a4a" stroke-width="1.4"/>
<path d="M110.00 735.8v3.8M113.45 735.8v1.7M116.91 735.8v1.7M120.36 735.8v1.7M123.82 735.8v1.7M127.27 735.8v1.7M130.72 735.8v1.7M134.18 735.8v1.7M137.63 735.8v3.8M141.09 735.8v1.7M144.54 735.8v1.7M147.99 735.8v1.7M151.45 735.8v1.7M154.90 735.8v1.7M158.36 735.8v1.7M161.81 735.8v1.7M165.26 735.8v1.7M168.72 735.8v1.7M172.17 735.8v1.7M175.63 735.8v1.7M179.08 735.8v1.7M182.53 735.8v1.7M185.99 735.8v1.7M189.44 735.8v1.7M192.90 735.8v1.7M196.35 735.8v1.7M199.80 735.8v1.7M203.26 735.8v1.7M206.71 735.8v1.7M210.17 735.8v3.8M213.62 735.8v1.7M217.07 735.8v1.7M220.53 735.8v1.7M223.98 735.8v1.7M227.44 735.8v1.7M230.89 735.8v1.7M234.34 735.8v1.7M237.80 735.8v1.7M241.25 735.8v1.7M244.71 735.8v1.7M248.16 735.8v1.7M251.61 735.8v1.7M255.07 735.8v1.7M258.52 735.8v1.7M261.98 735.8v1.7M265.43 735.8v1.7M268.88 735.8v1.7M272.34 735.8v1.7M275.79 735.8v1.7M279.25 735.8v1.7M282.70 735.8v1.7M286.15 735.8v1.7M289.61 735.8v3.8M293.06 735.8v1.7M296.52 735.8v1.7M299.97 735.8v1.7M303.42 735.8v1.7M306.88 735.8v1.7M310.33 735.8v1.7M313.79 735.8v1.7M317.24 735.8v1.7M320.69 735.8v1.7M324.15 735.8v1.7M327.60 735.8v1.7M331.06 735.8v1.7M334.51 735.8v1.7M337.96 735.8v1.7M341.42 735.8v1.7M344.87 735.8v1.7M348.33 735.8v1.7M351.78 735.8v1.7M355.23 735.8v1.7M358.69 735.8v1.7M362.14 735.8v3.8M365.60 735.8v1.7M369.05 735.8v1.7M372.50 735.8v1.7M375.96 735.8v1.7M379.41 735.8v1.7M382.87 735.8v1.7M386.32 735.8v1.7M389.77 735.8v1.7M393.23 735.8v1.7M396.68 735.8v1.7M400.14 735.8v1.7M403.59 735.8v1.7M407.04 735.8v1.7M410.50 735.8v1.7M413.95 735.8v1.7M417.41 735.8v1.7M420.86 735.8v1.7M424.31 735.8v1.7M427.77 735.8v1.7M431.22 735.8v3.8M434.68 735.8v1.7M438.13 735.8v1.7M441.58 735.8v1.7M445.04 735.8v1.7M448.49 735.8v1.7M451.95 735.8v1.7M455.40 735.8v1.7M458.85 735.8v1.7M462.31 735.8v1.7M465.76 735.8v1.7M469.22 735.8v1.7M472.67 735.8v1.7M476.12 735.8v1.7M479.58 735.8v1.7M483.03 735.8v1.7M486.49 735.8v1.7M489.94 735.8v1.7M493.39 735.8v1.7M496.85 735.8v1.7M500.30 735.8v1.7M503.76 735.8v1.7M507.21 735.8v3.8M510.66 735.8v1.7M514.12 735.8v1.7M517.57 735.8v1.7M521.03 735.8v1.7M524.48 735.8v1.7M527.93 735.8v1.7M531.39 735.8v1.7M534.84 735.8v1.7M538.30 735.8v1.7M541.75 735.8v1.7M545.20 735.8v1.7M548.66 735.8v1.7M552.11 735.8v1.7M555.57 735.8v1.7M559.02 735.8v1.7M562.47 735.8v1.7M565.93 735.8v1.7M569.38 735.8v1.7M572.84 735.8v1.7M576.29 735.8v1.7M579.74 735.8v1.7M583.20 735.8v3.8M586.65 735.8v1.7M590.11 735.8v1.7M593.56 735.8v1.7M597.01 735.8v1.7M600.47 735.8v1.7M603.92 735.8v1.7M607.38 735.8v1.7M610.83 735.8v1.7M614.28 735.8v1.7M617.74 735.8v1.7M621.19 735.8v1.7M624.65 735.8v1.7M628.10 735.8v3.8M631.55 735.8v1.7M635.01 735.8v1.7M638.46 735.8v1.7M641.92 735.8v1.7M645.37 735.8v1.7M648.82 735.8v1.7M652.28 735.8v1.7M655.73 735.8v1.7M659.19 735.8v1.7M662.64 735.8v1.7M666.09 735.8v1.7M669.55 735.8v1.7M673.00 735.8v1.7M676.46 735.8v1.7M679.91 735.8v1.7M683.36 735.8v1.7M686.82 735.8v1.7M690.27 735.8v3.8M693.73 735.8v1.7M697.18 735.8v1.7M700.63 735.8v1.7M704.09 735.8v1.7M707.54 735.8v1.7M711.00 735.8v1.7M714.45 735.8v1.7M717.90 735.8v1.7M721.36 735.8v1.7M724.81 735.8v1.7M728.27 735.8v1.7M731.72 735.8v1.7M735.17 735.8v1.7M738.63 735.8v1.7M742.08 735.8v1.7M745.54 735.8v1.7M748.99 735.8v1.7M752.44 735.8v1.7M755.90 735.8v1.7M759.35 735.8v1.7M762.81 735.8v1.7M766.26 735.8v1.7M769.71 735.8v3.8M773.17 735.8v1.7M776.62 735.8v1.7M780.08 735.8v1.7M783.53 735.8v1.7M786.98 735.8v1.7M790.44 735.8v1.7M793.89 735.8v1.7M797.35 735.8v1.7M800.80 735.8v1.7M804.25 735.8v1.7M807.71 735.8v1.7M811.16 735.8v1.7M814.62 735.8v1.7M818.07 735.8v1.7M821.52 735.8v1.7M824.98 735.8v1.7M828.43 735.8v3.8M831.89 735.8v1.7M835.34 735.8v1.7M838.79 735.8v1.7M842.25 735.8v1.7M845.70 735.8v1.7M849.16 735.8v1.7M852.61 735.8v1.7M856.06 735.8v1.7M859.52 735.8v1.7M862.97 735.8v1.7M866.43 735.8v1.7M869.88 735.8v1.7M873.33 735.8v1.7M876.79 735.8v1.7M880.24 735.8v1.7M883.70 735.8v1.7M887.15 735.8v1.7M890.60 735.8v1.7M894.06 735.8v1.7M897.51 735.8v1.7M900.97 735.8v1.7M904.42 735.8v3.8M907.87 735.8v1.7M911.33 735.8v1.7M914.78 735.8v1.7M918.24 735.8v1.7M921.69 735.8v1.7M925.14 735.8v1.7M928.60 735.8v1.7M932.05 735.8v1.7M935.51 735.8v1.7M938.96 735.8v1.7M942.41 735.8v1.7M945.87 735.8v1.7M949.32 735.8v1.7M952.78 735.8v3.8" stroke="#3a3a3a" stroke-width="1.0" fill="none"/>
<line x1="103.5" x2="106.5" y1="152.5" y2="152.5" stroke="#4a4a4a" stroke-width="1.2"/>
<line x1="103.5" x2="106.5" y1="216.8" y2="216.8" stroke="#4a4a4a" stroke-width="1.2"/>
<line x1="103.5" x2="106.5" y1="281.0" y2="281.0" stroke="#4a4a4a" stroke-width="1.2"/>
<line x1="103.5" x2="106.5" y1="345.2" y2="345.2" stroke="#4a4a4a" stroke-width="1.2"/>
<line x1="103.5" x2="106.5" y1="409.3" y2="409.3" stroke="#4a4a4a" stroke-width="1.2"/>
<line x1="103.5" x2="106.5" y1="517.5" y2="517.5" stroke="#4a4a4a" stroke-width="1.2"/>
<line x1="103.5" x2="106.5" y1="561.0" y2="561.0" stroke="#4a4a4a" stroke-width="1.2"/>
<line x1="103.5" x2="106.5" y1="648.0" y2="648.0" stroke="#4a4a4a" stroke-width="1.2"/>
<line x1="103.5" x2="106.5" y1="691.0" y2="691.0" stroke="#4a4a4a" stroke-width="1.2"/>
<text x="103.9" y="112.4" font-size="26.0" font-weight="bold" fill="#000" text-anchor="end" textLength="49.5" lengthAdjust="spacingAndGlyphs">40.9</text>
<text x="103.9" y="161.8" font-size="26.0" font-weight="bold" fill="#000" text-anchor="end" textLength="49.5" lengthAdjust="spacingAndGlyphs">37.3</text>
<text x="103.9" y="226.2" font-size="26.0" font-weight="bold" fill="#000" text-anchor="end" textLength="49.5" lengthAdjust="spacingAndGlyphs">33.7</text>
<text x="103.9" y="290.4" font-size="26.0" font-weight="bold" fill="#000" text-anchor="end" textLength="49.5" lengthAdjust="spacingAndGlyphs">30.1</text>
<text x="103.9" y="354.6" font-size="26.0" font-weight="bold" fill="#000" text-anchor="end" textLength="49.5" lengthAdjust="spacingAndGlyphs">26.5</text>
<text x="103.9" y="418.4" font-size="26.0" font-weight="bold" fill="#000" text-anchor="end" textLength="49.5" lengthAdjust="spacingAndGlyphs">23.0</text>
<text x="103.9" y="467.2" font-size="26.0" font-weight="bold" fill="#000" text-anchor="end" textLength="49.5" lengthAdjust="spacingAndGlyphs">19.4</text>
<text x="102.2" y="498.0" font-size="26.0" font-weight="bold" fill="#000" text-anchor="end" textLength="69.5" lengthAdjust="spacingAndGlyphs">47377</text>
<text x="102.6" y="526.3" font-size="26.0" font-weight="bold" fill="#000" text-anchor="end" textLength="69.5" lengthAdjust="spacingAndGlyphs">31685</text>
<text x="103.9" y="570.3" font-size="26.0" font-weight="bold" fill="#000" text-anchor="end" textLength="69.5" lengthAdjust="spacingAndGlyphs">15992</text>
<text x="103.2" y="598.4" font-size="26.0" font-weight="bold" fill="#000" text-anchor="end" textLength="41.0" lengthAdjust="spacingAndGlyphs">300</text>
<text x="103.9" y="629.0" font-size="26.0" font-weight="bold" fill="#000" text-anchor="end" textLength="28.0" lengthAdjust="spacingAndGlyphs">86</text>
<text x="103.9" y="657.0" font-size="26.0" font-weight="bold" fill="#000" text-anchor="end" textLength="28.0" lengthAdjust="spacingAndGlyphs">66</text>
<text x="103.9" y="700.5" font-size="26.0" font-weight="bold" fill="#000" text-anchor="end" textLength="28.0" lengthAdjust="spacingAndGlyphs">46</text>
<text x="103.9" y="728.8" font-size="26.0" font-weight="bold" fill="#000" text-anchor="end" textLength="28.0" lengthAdjust="spacingAndGlyphs">25</text>
<text x="109.6" y="765.5" font-size="26.0" font-weight="bold" fill="#000" text-anchor="middle">6</text>
<text x="138.0" y="765.5" font-size="26.0" font-weight="bold" fill="#000" text-anchor="middle">7</text>
<text x="210.6" y="765.5" font-size="26.0" font-weight="bold" fill="#000" text-anchor="middle">8</text>
<text x="290.0" y="765.5" font-size="26.0" font-weight="bold" fill="#000" text-anchor="middle">9</text>
<text x="362.5" y="765.5" font-size="26.0" font-weight="bold" fill="#000" text-anchor="middle">10</text>
<text x="431.6" y="765.5" font-size="26.0" font-weight="bold" fill="#000" text-anchor="middle">11</text>
<text x="507.6" y="765.5" font-size="26.0" font-weight="bold" fill="#000" text-anchor="middle">12</text>
<text x="583.6" y="765.5" font-size="26.0" font-weight="bold" fill="#000" text-anchor="middle">1</text>
<text x="628.5" y="765.5" font-size="26.0" font-weight="bold" fill="#000" text-anchor="middle">2</text>
<text x="690.7" y="765.5" font-size="26.0" font-weight="bold" fill="#000" text-anchor="middle">3</text>
<text x="770.1" y="765.5" font-size="26.0" font-weight="bold" fill="#000" text-anchor="middle">4</text>
<text x="828.8" y="765.5" font-size="26.0" font-weight="bold" fill="#000" text-anchor="middle">5</text>
<text x="904.8" y="765.5" font-size="26.0" font-weight="bold" fill="#000" text-anchor="middle">6</text>
<text x="952.0" y="765.5" font-size="26.0" font-weight="bold" fill="#000" text-anchor="middle" textLength="48.5" lengthAdjust="spacingAndGlyphs">6/21</text>
<text x="103.4" y="795.2" font-size="26.0" font-weight="bold" fill="#000" text-anchor="start" textLength="40.5" lengthAdjust="spacingAndGlyphs">111</text>
<text x="576.3" y="795.2" font-size="26.0" font-weight="bold" fill="#000" text-anchor="start" textLength="43.0" lengthAdjust="spacingAndGlyphs">112</text>
</svg>
</body></html>
